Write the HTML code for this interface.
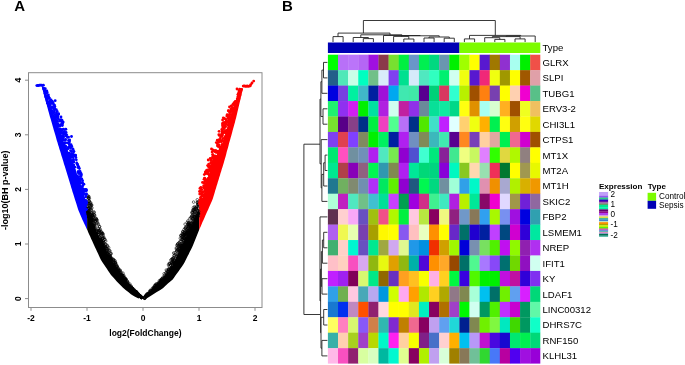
<!DOCTYPE html>
<html lang="en"><head><meta charset="utf-8"><title>Volcano plot and heatmap</title>
<style>html,body{margin:0;padding:0;background:#fff}svg{display:block}</style></head>
<body>
<svg width="685" height="365" viewBox="0 0 685 365" font-family="'Liberation Sans', Arial, sans-serif">
<rect width="685" height="365" fill="#fff"/>
<text x="14.3" y="10.7" font-size="15" font-weight="bold" fill="#000">A</text>
<text x="282" y="10.7" font-size="15" font-weight="bold" fill="#000">B</text>
<rect x="28.5" y="72.7" width="233.5" height="234.8" fill="none" stroke="#8c8c8c" stroke-width="1"/>
<line x1="31.0" y1="307.5" x2="31.0" y2="310.8" stroke="#8c8c8c" stroke-width="1"/>
<text x="31.0" y="321.4" font-size="8.5" font-weight="bold" text-anchor="middle" fill="#000">-2</text>
<line x1="87.0" y1="307.5" x2="87.0" y2="310.8" stroke="#8c8c8c" stroke-width="1"/>
<text x="87.0" y="321.4" font-size="8.5" font-weight="bold" text-anchor="middle" fill="#000">-1</text>
<line x1="143.0" y1="307.5" x2="143.0" y2="310.8" stroke="#8c8c8c" stroke-width="1"/>
<text x="143.0" y="321.4" font-size="8.5" font-weight="bold" text-anchor="middle" fill="#000">0</text>
<line x1="199.0" y1="307.5" x2="199.0" y2="310.8" stroke="#8c8c8c" stroke-width="1"/>
<text x="199.0" y="321.4" font-size="8.5" font-weight="bold" text-anchor="middle" fill="#000">1</text>
<line x1="255.0" y1="307.5" x2="255.0" y2="310.8" stroke="#8c8c8c" stroke-width="1"/>
<text x="255.0" y="321.4" font-size="8.5" font-weight="bold" text-anchor="middle" fill="#000">2</text>
<line x1="25.0" y1="298.6" x2="28.5" y2="298.6" stroke="#8c8c8c" stroke-width="1"/>
<text transform="translate(21,298.6) rotate(-90)" font-size="8.5" font-weight="bold" text-anchor="middle" fill="#000">0</text>
<line x1="25.0" y1="244.0" x2="28.5" y2="244.0" stroke="#8c8c8c" stroke-width="1"/>
<text transform="translate(21,244.0) rotate(-90)" font-size="8.5" font-weight="bold" text-anchor="middle" fill="#000">1</text>
<line x1="25.0" y1="189.4" x2="28.5" y2="189.4" stroke="#8c8c8c" stroke-width="1"/>
<text transform="translate(21,189.4) rotate(-90)" font-size="8.5" font-weight="bold" text-anchor="middle" fill="#000">2</text>
<line x1="25.0" y1="134.8" x2="28.5" y2="134.8" stroke="#8c8c8c" stroke-width="1"/>
<text transform="translate(21,134.8) rotate(-90)" font-size="8.5" font-weight="bold" text-anchor="middle" fill="#000">3</text>
<line x1="25.0" y1="80.2" x2="28.5" y2="80.2" stroke="#8c8c8c" stroke-width="1"/>
<text transform="translate(21,80.2) rotate(-90)" font-size="8.5" font-weight="bold" text-anchor="middle" fill="#000">4</text>
<text x="145.4" y="336.2" font-size="8.5" font-weight="bold" text-anchor="middle" fill="#000">log2(FoldChange)</text>
<text transform="translate(7.6,190.2) rotate(-90)" font-size="9" font-weight="bold" text-anchor="middle" fill="#000">-log10(BH p-value)</text>
<clipPath id="cb"><rect x="0" y="0" width="87.1" height="365"/></clipPath>
<clipPath id="ck"><rect x="87.1" y="0" width="112.1" height="365"/></clipPath>
<clipPath id="cr"><rect x="199.2" y="0" width="100" height="365"/></clipPath>
<g clip-path="url(#ck)"><polygon points="41.8,87.0 42.4,89.1 43.0,91.3 43.6,93.4 44.1,95.5 44.7,97.7 45.3,99.8 45.9,102.0 46.5,104.1 47.1,106.2 47.7,108.4 48.2,110.5 48.8,112.6 49.4,114.8 50.0,116.9 50.7,119.0 51.3,121.2 51.9,123.3 52.5,125.4 53.1,127.6 53.7,129.7 54.4,131.9 55.0,134.0 55.6,136.1 56.2,138.3 56.8,140.4 57.5,142.5 58.1,144.7 58.8,146.8 59.4,148.9 60.1,151.1 60.8,153.2 61.4,155.4 62.1,157.5 62.7,159.6 63.4,161.8 64.0,163.9 64.7,166.0 65.4,168.2 66.0,170.3 66.7,172.4 67.3,174.6 68.0,176.7 68.6,178.8 69.3,181.0 69.9,183.1 70.6,185.3 71.2,187.4 71.9,189.5 72.5,191.7 73.2,193.8 73.9,195.9 74.5,198.1 75.2,200.2 75.9,202.3 76.6,204.5 77.2,206.6 77.9,208.8 78.7,210.9 79.6,213.0 80.5,215.2 81.4,217.3 82.3,219.4 83.3,221.6 84.3,223.7 85.3,225.8 86.3,228.0 87.3,230.1 88.2,232.2 89.2,234.4 90.2,236.5 91.1,238.7 92.1,240.8 93.1,242.9 94.0,245.1 95.0,247.2 96.0,249.3 97.0,251.5 98.0,253.6 99.0,255.7 100.0,257.9 101.0,260.0 102.4,262.2 103.8,264.3 105.3,266.4 106.7,268.6 108.1,270.7 109.5,272.8 111.0,275.0 112.9,277.1 114.9,279.2 116.8,281.4 118.8,283.5 120.8,285.6 123.0,287.8 125.6,289.9 128.3,292.1 130.9,294.2 134.1,296.3 138.5,298.5 142.9,300.6 142.9,300.6 138.5,298.5 141.6,296.3 139.1,294.2 136.6,292.1 134.1,289.9 131.6,287.8 129.7,285.6 127.9,283.5 126.0,281.4 124.1,279.2 122.3,277.1 120.4,275.0 118.9,272.8 117.4,270.7 115.9,268.6 114.5,266.4 113.1,264.3 112.0,262.2 110.8,260.0 109.7,257.9 108.5,255.7 107.4,253.6 106.3,251.5 105.1,249.3 104.0,247.2 102.8,245.1 101.8,242.9 100.8,240.8 99.7,238.7 98.7,236.5 97.7,234.4 96.6,232.2 95.6,230.1 94.6,228.0 93.8,225.8 93.0,223.7 92.3,221.6 91.5,219.4 90.7,217.3 89.9,215.2 89.2,213.0 88.5,210.9 87.9,208.8 87.2,206.6 86.6,204.5 86.0,202.3 85.4,200.2 84.7,198.1 84.1,195.9 83.4,193.8 82.8,191.7 82.2,189.5 81.5,187.4 80.9,185.3 80.2,183.1 79.5,181.0 78.7,178.8 78.0,176.7 77.2,174.6 76.5,172.4 75.8,170.3 75.0,168.2 74.3,166.0 73.6,163.9 72.8,161.8 71.8,159.6 70.8,157.5 69.8,155.4 68.8,153.2 67.8,151.1 66.9,148.9 65.9,146.8 65.0,144.7 64.1,142.5 63.3,140.4 62.4,138.3 61.6,136.1 60.8,134.0 60.0,131.9 59.2,129.7 58.5,127.6 57.7,125.4 56.9,123.3 56.1,121.2 55.4,119.0 54.6,116.9 53.7,114.8 52.9,112.6 52.1,110.5 51.3,108.4 50.4,106.2 49.6,104.1 48.8,102.0 47.9,99.8 47.2,97.7 46.5,95.5 45.7,93.4 45.0,91.3 44.2,89.1 43.5,87.0" fill="#000"/><polygon points="243.0,88.5 242.5,90.6 242.0,92.7 241.5,94.9 241.0,97.0 240.5,99.1 240.0,101.2 239.5,103.3 239.0,105.5 238.5,107.6 238.0,109.7 237.5,111.8 237.0,114.0 236.5,116.1 236.0,118.2 235.4,120.3 234.9,122.4 234.3,124.6 233.7,126.7 233.1,128.8 232.5,130.9 232.0,133.0 231.4,135.2 230.8,137.3 230.2,139.4 229.6,141.5 229.0,143.6 228.5,145.8 227.9,147.9 227.3,150.0 226.7,152.1 226.2,154.3 225.6,156.4 225.0,158.5 224.4,160.6 223.8,162.7 223.1,164.9 222.5,167.0 221.8,169.1 221.2,171.2 220.5,173.3 219.9,175.5 219.2,177.6 218.6,179.7 217.9,181.8 217.3,183.9 216.6,186.1 216.0,188.2 215.3,190.3 214.7,192.4 214.1,194.6 213.4,196.7 212.8,198.8 211.9,200.9 211.0,203.0 210.0,205.2 209.1,207.3 208.2,209.4 207.2,211.5 206.3,213.6 205.3,215.8 204.4,217.9 203.5,220.0 202.5,222.1 201.6,224.2 200.7,226.4 199.7,228.5 198.9,230.6 198.0,232.7 197.2,234.8 196.3,237.0 195.5,239.1 194.6,241.2 193.8,243.3 192.9,245.5 192.0,247.6 190.9,249.7 189.8,251.8 188.8,253.9 187.7,256.1 186.6,258.2 185.6,260.3 184.5,262.4 183.3,264.5 181.8,266.7 180.3,268.8 178.8,270.9 177.3,273.0 175.8,275.1 174.3,277.3 172.7,279.4 170.3,281.5 167.9,283.6 165.5,285.8 163.2,287.9 160.3,290.0 156.8,292.1 153.3,294.2 149.8,296.4 146.5,298.5 143.1,300.6 143.1,300.6 146.5,298.5 144.4,296.4 146.9,294.2 149.5,292.1 152.0,290.0 154.5,287.9 156.8,285.8 159.1,283.6 161.4,281.5 163.7,279.4 165.9,277.3 167.2,275.1 168.5,273.0 169.8,270.9 171.0,268.8 172.3,266.7 173.6,264.5 174.6,262.4 175.6,260.3 176.6,258.2 177.7,256.1 178.7,253.9 179.7,251.8 180.7,249.7 181.6,247.6 182.6,245.5 183.5,243.3 184.4,241.2 185.3,239.1 186.3,237.0 187.2,234.8 188.2,232.7 189.5,230.6 190.7,228.5 192.0,226.4 193.0,224.2 193.9,222.1 194.8,220.0 195.6,217.9 196.5,215.8 197.3,213.6 198.2,211.5 199.0,209.4 199.9,207.3 200.7,205.2 201.5,203.0 202.4,200.9 203.1,198.8 203.6,196.7 204.1,194.6 204.6,192.4 205.2,190.3 205.7,188.2 206.2,186.1 206.7,183.9 207.2,181.8 207.7,179.7 208.2,177.6 208.7,175.5 209.2,173.3 209.7,171.2 210.3,169.1 210.8,167.0 211.7,164.9 212.8,162.7 213.9,160.6 215.0,158.5 216.1,156.4 217.2,154.3 218.3,152.1 219.4,150.0 220.5,147.9 221.6,145.8 222.6,143.6 223.2,141.5 223.8,139.4 224.4,137.3 225.0,135.2 225.6,133.0 226.2,130.9 226.8,128.8 227.4,126.7 228.0,124.6 228.6,122.4 229.2,120.3 230.0,118.2 230.8,116.1 231.7,114.0 232.5,111.8 233.3,109.7 234.2,107.6 235.0,105.5 235.9,103.3 236.7,101.2 237.6,99.1 238.4,97.0 239.2,94.9 240.0,92.7 240.7,90.6 241.5,88.5" fill="#000"/></g>
<g clip-path="url(#cb)"><polygon points="41.8,87.0 42.4,89.1 43.0,91.3 43.6,93.4 44.1,95.5 44.7,97.7 45.3,99.8 45.9,102.0 46.5,104.1 47.1,106.2 47.7,108.4 48.2,110.5 48.8,112.6 49.4,114.8 50.0,116.9 50.7,119.0 51.3,121.2 51.9,123.3 52.5,125.4 53.1,127.6 53.7,129.7 54.4,131.9 55.0,134.0 55.6,136.1 56.2,138.3 56.8,140.4 57.5,142.5 58.1,144.7 58.8,146.8 59.4,148.9 60.1,151.1 60.8,153.2 61.4,155.4 62.1,157.5 62.7,159.6 63.4,161.8 64.0,163.9 64.7,166.0 65.4,168.2 66.0,170.3 66.7,172.4 67.3,174.6 68.0,176.7 68.6,178.8 69.3,181.0 69.9,183.1 70.6,185.3 71.2,187.4 71.9,189.5 72.5,191.7 73.2,193.8 73.9,195.9 74.5,198.1 75.2,200.2 75.9,202.3 76.6,204.5 77.2,206.6 77.9,208.8 78.7,210.9 79.6,213.0 80.5,215.2 81.4,217.3 82.3,219.4 83.3,221.6 84.3,223.7 85.3,225.8 86.3,228.0 87.3,230.1 88.2,232.2 89.2,234.4 90.2,236.5 91.1,238.7 92.1,240.8 93.1,242.9 94.0,245.1 95.0,247.2 96.0,249.3 97.0,251.5 98.0,253.6 99.0,255.7 100.0,257.9 101.0,260.0 102.4,262.2 103.8,264.3 105.3,266.4 106.7,268.6 108.1,270.7 109.5,272.8 111.0,275.0 112.9,277.1 114.9,279.2 116.8,281.4 118.8,283.5 120.8,285.6 123.0,287.8 125.6,289.9 128.3,292.1 130.9,294.2 134.1,296.3 138.5,298.5 142.9,300.6 142.9,300.6 138.5,298.5 141.6,296.3 139.1,294.2 136.6,292.1 134.1,289.9 131.6,287.8 129.7,285.6 127.9,283.5 126.0,281.4 124.1,279.2 122.3,277.1 120.4,275.0 118.9,272.8 117.4,270.7 115.9,268.6 114.5,266.4 113.1,264.3 112.0,262.2 110.8,260.0 109.7,257.9 108.5,255.7 107.4,253.6 106.3,251.5 105.1,249.3 104.0,247.2 102.8,245.1 101.8,242.9 100.8,240.8 99.7,238.7 98.7,236.5 97.7,234.4 96.6,232.2 95.6,230.1 94.6,228.0 93.8,225.8 93.0,223.7 92.3,221.6 91.5,219.4 90.7,217.3 89.9,215.2 89.2,213.0 88.5,210.9 87.9,208.8 87.2,206.6 86.6,204.5 86.0,202.3 85.4,200.2 84.7,198.1 84.1,195.9 83.4,193.8 82.8,191.7 82.2,189.5 81.5,187.4 80.9,185.3 80.2,183.1 79.5,181.0 78.7,178.8 78.0,176.7 77.2,174.6 76.5,172.4 75.8,170.3 75.0,168.2 74.3,166.0 73.6,163.9 72.8,161.8 71.8,159.6 70.8,157.5 69.8,155.4 68.8,153.2 67.8,151.1 66.9,148.9 65.9,146.8 65.0,144.7 64.1,142.5 63.3,140.4 62.4,138.3 61.6,136.1 60.8,134.0 60.0,131.9 59.2,129.7 58.5,127.6 57.7,125.4 56.9,123.3 56.1,121.2 55.4,119.0 54.6,116.9 53.7,114.8 52.9,112.6 52.1,110.5 51.3,108.4 50.4,106.2 49.6,104.1 48.8,102.0 47.9,99.8 47.2,97.7 46.5,95.5 45.7,93.4 45.0,91.3 44.2,89.1 43.5,87.0" fill="#0000ff"/></g>
<g clip-path="url(#cr)"><polygon points="243.0,88.5 242.5,90.6 242.0,92.7 241.5,94.9 241.0,97.0 240.5,99.1 240.0,101.2 239.5,103.3 239.0,105.5 238.5,107.6 238.0,109.7 237.5,111.8 237.0,114.0 236.5,116.1 236.0,118.2 235.4,120.3 234.9,122.4 234.3,124.6 233.7,126.7 233.1,128.8 232.5,130.9 232.0,133.0 231.4,135.2 230.8,137.3 230.2,139.4 229.6,141.5 229.0,143.6 228.5,145.8 227.9,147.9 227.3,150.0 226.7,152.1 226.2,154.3 225.6,156.4 225.0,158.5 224.4,160.6 223.8,162.7 223.1,164.9 222.5,167.0 221.8,169.1 221.2,171.2 220.5,173.3 219.9,175.5 219.2,177.6 218.6,179.7 217.9,181.8 217.3,183.9 216.6,186.1 216.0,188.2 215.3,190.3 214.7,192.4 214.1,194.6 213.4,196.7 212.8,198.8 211.9,200.9 211.0,203.0 210.0,205.2 209.1,207.3 208.2,209.4 207.2,211.5 206.3,213.6 205.3,215.8 204.4,217.9 203.5,220.0 202.5,222.1 201.6,224.2 200.7,226.4 199.7,228.5 198.9,230.6 198.0,232.7 197.2,234.8 196.3,237.0 195.5,239.1 194.6,241.2 193.8,243.3 192.9,245.5 192.0,247.6 190.9,249.7 189.8,251.8 188.8,253.9 187.7,256.1 186.6,258.2 185.6,260.3 184.5,262.4 183.3,264.5 181.8,266.7 180.3,268.8 178.8,270.9 177.3,273.0 175.8,275.1 174.3,277.3 172.7,279.4 170.3,281.5 167.9,283.6 165.5,285.8 163.2,287.9 160.3,290.0 156.8,292.1 153.3,294.2 149.8,296.4 146.5,298.5 143.1,300.6 143.1,300.6 146.5,298.5 144.4,296.4 146.9,294.2 149.5,292.1 152.0,290.0 154.5,287.9 156.8,285.8 159.1,283.6 161.4,281.5 163.7,279.4 165.9,277.3 167.2,275.1 168.5,273.0 169.8,270.9 171.0,268.8 172.3,266.7 173.6,264.5 174.6,262.4 175.6,260.3 176.6,258.2 177.7,256.1 178.7,253.9 179.7,251.8 180.7,249.7 181.6,247.6 182.6,245.5 183.5,243.3 184.4,241.2 185.3,239.1 186.3,237.0 187.2,234.8 188.2,232.7 189.5,230.6 190.7,228.5 192.0,226.4 193.0,224.2 193.9,222.1 194.8,220.0 195.6,217.9 196.5,215.8 197.3,213.6 198.2,211.5 199.0,209.4 199.9,207.3 200.7,205.2 201.5,203.0 202.4,200.9 203.1,198.8 203.6,196.7 204.1,194.6 204.6,192.4 205.2,190.3 205.7,188.2 206.2,186.1 206.7,183.9 207.2,181.8 207.7,179.7 208.2,177.6 208.7,175.5 209.2,173.3 209.7,171.2 210.3,169.1 210.8,167.0 211.7,164.9 212.8,162.7 213.9,160.6 215.0,158.5 216.1,156.4 217.2,154.3 218.3,152.1 219.4,150.0 220.5,147.9 221.6,145.8 222.6,143.6 223.2,141.5 223.8,139.4 224.4,137.3 225.0,135.2 225.6,133.0 226.2,130.9 226.8,128.8 227.4,126.7 228.0,124.6 228.6,122.4 229.2,120.3 230.0,118.2 230.8,116.1 231.7,114.0 232.5,111.8 233.3,109.7 234.2,107.6 235.0,105.5 235.9,103.3 236.7,101.2 237.6,99.1 238.4,97.0 239.2,94.9 240.0,92.7 240.7,90.6 241.5,88.5" fill="#ff0000"/></g>
<g fill="none" stroke="#000" stroke-width="0.55">
<circle cx="92.7" cy="226.5" r="1.3"/>
<circle cx="98.0" cy="238.2" r="1.3"/>
<circle cx="102.5" cy="237.2" r="1.3"/>
<circle cx="91.8" cy="215.8" r="1.3"/>
<circle cx="107.0" cy="253.5" r="1.3"/>
<circle cx="87.6" cy="197.0" r="1.3"/>
<circle cx="122.5" cy="278.9" r="1.3"/>
<circle cx="110.3" cy="260.0" r="1.3"/>
<circle cx="112.8" cy="264.5" r="1.3"/>
<circle cx="107.8" cy="254.4" r="1.3"/>
<circle cx="122.4" cy="276.6" r="1.3"/>
<circle cx="107.6" cy="253.2" r="1.3"/>
<circle cx="115.7" cy="269.7" r="1.3"/>
<circle cx="88.1" cy="208.2" r="1.3"/>
<circle cx="114.2" cy="263.2" r="1.3"/>
<circle cx="128.2" cy="285.2" r="1.3"/>
<circle cx="109.1" cy="255.3" r="1.3"/>
<circle cx="127.5" cy="281.5" r="1.3"/>
<circle cx="110.7" cy="262.7" r="1.3"/>
<circle cx="115.1" cy="260.9" r="1.3"/>
<circle cx="92.3" cy="222.3" r="1.3"/>
<circle cx="127.4" cy="284.8" r="1.3"/>
<circle cx="109.3" cy="250.5" r="1.3"/>
<circle cx="127.1" cy="284.0" r="1.3"/>
<circle cx="99.9" cy="230.2" r="1.3"/>
<circle cx="91.0" cy="216.9" r="1.3"/>
<circle cx="90.1" cy="220.0" r="1.3"/>
<circle cx="97.3" cy="231.3" r="1.3"/>
<circle cx="113.9" cy="265.5" r="1.3"/>
<circle cx="111.4" cy="264.0" r="1.3"/>
<circle cx="122.3" cy="275.1" r="1.3"/>
<circle cx="97.3" cy="233.8" r="1.3"/>
<circle cx="109.0" cy="259.6" r="1.3"/>
<circle cx="88.3" cy="214.2" r="1.3"/>
<circle cx="128.9" cy="285.1" r="1.3"/>
<circle cx="90.9" cy="218.9" r="1.3"/>
<circle cx="90.3" cy="205.1" r="1.3"/>
<circle cx="101.6" cy="241.6" r="1.3"/>
<circle cx="123.6" cy="280.3" r="1.3"/>
<circle cx="136.9" cy="293.3" r="1.3"/>
<circle cx="103.8" cy="249.8" r="1.3"/>
<circle cx="140.6" cy="296.2" r="1.3"/>
<circle cx="91.3" cy="219.8" r="1.3"/>
<circle cx="119.7" cy="274.2" r="1.3"/>
<circle cx="93.2" cy="227.1" r="1.3"/>
<circle cx="141.3" cy="296.9" r="1.3"/>
<circle cx="124.7" cy="279.2" r="1.3"/>
<circle cx="103.5" cy="247.1" r="1.3"/>
<circle cx="117.1" cy="265.8" r="1.3"/>
<circle cx="136.4" cy="291.8" r="1.3"/>
<circle cx="94.9" cy="230.8" r="1.3"/>
<circle cx="88.0" cy="212.9" r="1.3"/>
<circle cx="132.0" cy="287.9" r="1.3"/>
<circle cx="113.7" cy="261.5" r="1.3"/>
<circle cx="115.0" cy="262.4" r="1.3"/>
<circle cx="117.9" cy="271.9" r="1.3"/>
<circle cx="120.4" cy="276.0" r="1.3"/>
<circle cx="139.3" cy="295.5" r="1.3"/>
<circle cx="136.8" cy="292.8" r="1.3"/>
<circle cx="121.5" cy="277.9" r="1.3"/>
<circle cx="140.6" cy="296.4" r="1.3"/>
<circle cx="106.7" cy="250.4" r="1.3"/>
<circle cx="111.7" cy="261.2" r="1.3"/>
<circle cx="103.4" cy="238.2" r="1.3"/>
<circle cx="88.8" cy="214.5" r="1.3"/>
<circle cx="92.1" cy="217.6" r="1.3"/>
<circle cx="97.4" cy="236.6" r="1.3"/>
<circle cx="95.7" cy="229.7" r="1.3"/>
<circle cx="131.1" cy="288.3" r="1.3"/>
<circle cx="103.7" cy="245.4" r="1.3"/>
<circle cx="103.9" cy="242.4" r="1.3"/>
<circle cx="94.9" cy="226.7" r="1.3"/>
<circle cx="119.4" cy="275.5" r="1.3"/>
<circle cx="90.3" cy="218.5" r="1.3"/>
<circle cx="104.3" cy="246.1" r="1.3"/>
<circle cx="132.2" cy="289.2" r="1.3"/>
<circle cx="103.8" cy="245.8" r="1.3"/>
<circle cx="101.2" cy="240.2" r="1.3"/>
<circle cx="136.2" cy="292.3" r="1.3"/>
<circle cx="135.5" cy="292.3" r="1.3"/>
<circle cx="136.7" cy="292.5" r="1.3"/>
<circle cx="89.3" cy="217.6" r="1.3"/>
<circle cx="122.7" cy="275.5" r="1.3"/>
<circle cx="116.5" cy="268.3" r="1.3"/>
<circle cx="131.1" cy="286.0" r="1.3"/>
<circle cx="136.9" cy="293.4" r="1.3"/>
<circle cx="141.5" cy="297.4" r="1.3"/>
<circle cx="100.1" cy="238.0" r="1.3"/>
<circle cx="88.5" cy="212.8" r="1.3"/>
<circle cx="102.1" cy="246.6" r="1.3"/>
<circle cx="123.6" cy="276.0" r="1.3"/>
<circle cx="90.2" cy="220.3" r="1.3"/>
<circle cx="90.6" cy="220.8" r="1.3"/>
<circle cx="133.1" cy="289.1" r="1.3"/>
<circle cx="91.9" cy="207.9" r="1.3"/>
<circle cx="113.1" cy="266.6" r="1.3"/>
<circle cx="113.3" cy="265.3" r="1.3"/>
<circle cx="135.7" cy="291.9" r="1.3"/>
<circle cx="89.0" cy="200.9" r="1.3"/>
<circle cx="127.4" cy="283.9" r="1.3"/>
<circle cx="109.9" cy="250.9" r="1.3"/>
<circle cx="87.6" cy="205.8" r="1.3"/>
<circle cx="88.7" cy="213.5" r="1.3"/>
<circle cx="117.8" cy="272.9" r="1.3"/>
<circle cx="88.7" cy="210.9" r="1.3"/>
<circle cx="89.2" cy="212.2" r="1.3"/>
<circle cx="89.4" cy="203.3" r="1.3"/>
<circle cx="106.1" cy="244.7" r="1.3"/>
<circle cx="105.3" cy="246.0" r="1.3"/>
<circle cx="98.5" cy="228.5" r="1.3"/>
<circle cx="110.3" cy="259.7" r="1.3"/>
<circle cx="116.4" cy="270.9" r="1.3"/>
<circle cx="88.9" cy="201.0" r="1.3"/>
<circle cx="111.7" cy="263.4" r="1.3"/>
<circle cx="93.2" cy="223.2" r="1.3"/>
<circle cx="99.3" cy="239.5" r="1.3"/>
<circle cx="139.5" cy="295.6" r="1.3"/>
<circle cx="138.4" cy="294.8" r="1.3"/>
<circle cx="101.9" cy="245.5" r="1.3"/>
<circle cx="96.2" cy="234.5" r="1.3"/>
<circle cx="92.3" cy="224.4" r="1.3"/>
<circle cx="107.0" cy="248.4" r="1.3"/>
<circle cx="118.0" cy="268.3" r="1.3"/>
<circle cx="99.5" cy="226.7" r="1.3"/>
<circle cx="117.0" cy="269.1" r="1.3"/>
<circle cx="126.9" cy="281.0" r="1.3"/>
<circle cx="118.7" cy="270.2" r="1.3"/>
<circle cx="104.7" cy="247.8" r="1.3"/>
<circle cx="124.0" cy="277.7" r="1.3"/>
<circle cx="130.8" cy="287.1" r="1.3"/>
<circle cx="88.8" cy="216.5" r="1.3"/>
<circle cx="94.3" cy="230.4" r="1.3"/>
<circle cx="107.5" cy="251.5" r="1.3"/>
<circle cx="115.1" cy="264.5" r="1.3"/>
<circle cx="117.9" cy="271.7" r="1.3"/>
<circle cx="110.5" cy="262.2" r="1.3"/>
<circle cx="89.8" cy="218.9" r="1.3"/>
<circle cx="115.4" cy="269.7" r="1.3"/>
<circle cx="139.8" cy="295.9" r="1.3"/>
<circle cx="103.8" cy="243.0" r="1.3"/>
<circle cx="110.7" cy="257.7" r="1.3"/>
<circle cx="94.6" cy="224.4" r="1.3"/>
<circle cx="93.9" cy="220.6" r="1.3"/>
<circle cx="112.0" cy="264.0" r="1.3"/>
<circle cx="101.4" cy="241.5" r="1.3"/>
<circle cx="129.6" cy="287.2" r="1.3"/>
<circle cx="134.6" cy="291.7" r="1.3"/>
<circle cx="126.1" cy="279.3" r="1.3"/>
<circle cx="90.8" cy="220.6" r="1.3"/>
<circle cx="90.9" cy="214.4" r="1.3"/>
<circle cx="108.7" cy="247.8" r="1.3"/>
<circle cx="123.8" cy="279.4" r="1.3"/>
<circle cx="113.6" cy="266.9" r="1.3"/>
<circle cx="101.9" cy="243.8" r="1.3"/>
<circle cx="99.7" cy="240.0" r="1.3"/>
<circle cx="94.3" cy="228.6" r="1.3"/>
<circle cx="91.0" cy="204.8" r="1.3"/>
<circle cx="130.5" cy="288.0" r="1.3"/>
<circle cx="102.9" cy="233.8" r="1.3"/>
<circle cx="95.9" cy="230.4" r="1.3"/>
<circle cx="97.3" cy="222.4" r="1.3"/>
<circle cx="92.5" cy="220.3" r="1.3"/>
<circle cx="101.4" cy="231.8" r="1.3"/>
<circle cx="123.6" cy="278.5" r="1.3"/>
<circle cx="135.8" cy="292.2" r="1.3"/>
<circle cx="118.9" cy="272.2" r="1.3"/>
<circle cx="88.4" cy="197.2" r="1.3"/>
<circle cx="101.0" cy="242.3" r="1.3"/>
<circle cx="120.2" cy="270.7" r="1.3"/>
<circle cx="110.9" cy="261.9" r="1.3"/>
<circle cx="96.2" cy="234.0" r="1.3"/>
<circle cx="93.9" cy="214.1" r="1.3"/>
<circle cx="94.4" cy="215.4" r="1.3"/>
<circle cx="99.0" cy="239.9" r="1.3"/>
<circle cx="89.9" cy="217.5" r="1.3"/>
<circle cx="130.5" cy="286.5" r="1.3"/>
<circle cx="99.2" cy="236.1" r="1.3"/>
<circle cx="93.1" cy="228.0" r="1.3"/>
<circle cx="138.6" cy="295.1" r="1.3"/>
<circle cx="113.1" cy="259.1" r="1.3"/>
<circle cx="91.1" cy="220.9" r="1.3"/>
<circle cx="104.9" cy="239.5" r="1.3"/>
<circle cx="127.5" cy="285.0" r="1.3"/>
<circle cx="117.7" cy="267.6" r="1.3"/>
<circle cx="106.3" cy="254.5" r="1.3"/>
<circle cx="134.8" cy="290.7" r="1.3"/>
<circle cx="139.2" cy="295.5" r="1.3"/>
<circle cx="88.4" cy="208.4" r="1.3"/>
<circle cx="136.2" cy="292.3" r="1.3"/>
<circle cx="118.8" cy="273.5" r="1.3"/>
<circle cx="133.5" cy="290.0" r="1.3"/>
<circle cx="113.0" cy="266.4" r="1.3"/>
<circle cx="105.3" cy="247.9" r="1.3"/>
<circle cx="92.3" cy="215.8" r="1.3"/>
<circle cx="105.7" cy="241.1" r="1.3"/>
<circle cx="129.3" cy="286.1" r="1.3"/>
<circle cx="96.1" cy="218.3" r="1.3"/>
<circle cx="91.8" cy="224.7" r="1.3"/>
<circle cx="112.5" cy="263.8" r="1.3"/>
<circle cx="115.5" cy="263.1" r="1.3"/>
<circle cx="112.1" cy="264.7" r="1.3"/>
<circle cx="117.3" cy="270.7" r="1.3"/>
<circle cx="139.0" cy="295.3" r="1.3"/>
<circle cx="89.4" cy="216.6" r="1.3"/>
<circle cx="97.9" cy="223.4" r="1.3"/>
<circle cx="87.7" cy="211.9" r="1.3"/>
<circle cx="115.6" cy="262.9" r="1.3"/>
<circle cx="96.4" cy="233.9" r="1.3"/>
<circle cx="101.7" cy="233.9" r="1.3"/>
<circle cx="120.0" cy="270.0" r="1.3"/>
<circle cx="93.1" cy="227.1" r="1.3"/>
<circle cx="116.3" cy="271.5" r="1.3"/>
<circle cx="96.4" cy="232.3" r="1.3"/>
<circle cx="100.3" cy="229.4" r="1.3"/>
<circle cx="138.2" cy="294.7" r="1.3"/>
<circle cx="125.4" cy="279.5" r="1.3"/>
<circle cx="132.6" cy="289.9" r="1.3"/>
<circle cx="129.8" cy="287.5" r="1.3"/>
<circle cx="124.3" cy="278.5" r="1.3"/>
<circle cx="94.2" cy="219.4" r="1.3"/>
<circle cx="93.8" cy="228.1" r="1.3"/>
<circle cx="108.6" cy="257.7" r="1.3"/>
<circle cx="94.9" cy="225.7" r="1.3"/>
<circle cx="133.1" cy="289.6" r="1.3"/>
<circle cx="138.4" cy="293.9" r="1.3"/>
<circle cx="91.3" cy="218.7" r="1.3"/>
<circle cx="133.7" cy="290.8" r="1.3"/>
<circle cx="119.1" cy="270.6" r="1.3"/>
<circle cx="108.3" cy="256.7" r="1.3"/>
<circle cx="98.9" cy="230.5" r="1.3"/>
<circle cx="91.9" cy="213.0" r="1.3"/>
<circle cx="99.5" cy="226.7" r="1.3"/>
<circle cx="141.1" cy="297.2" r="1.3"/>
<circle cx="99.2" cy="239.6" r="1.3"/>
<circle cx="111.1" cy="258.1" r="1.3"/>
<circle cx="126.8" cy="282.2" r="1.3"/>
<circle cx="125.0" cy="281.6" r="1.3"/>
<circle cx="99.0" cy="231.7" r="1.3"/>
<circle cx="90.2" cy="218.4" r="1.3"/>
<circle cx="129.7" cy="286.2" r="1.3"/>
<circle cx="102.9" cy="234.2" r="1.3"/>
<circle cx="93.8" cy="216.6" r="1.3"/>
<circle cx="141.3" cy="297.5" r="1.3"/>
<circle cx="125.3" cy="279.2" r="1.3"/>
<circle cx="94.0" cy="212.2" r="1.3"/>
<circle cx="134.2" cy="291.1" r="1.3"/>
<circle cx="99.4" cy="239.8" r="1.3"/>
<circle cx="135.8" cy="292.7" r="1.3"/>
<circle cx="108.6" cy="258.0" r="1.3"/>
<circle cx="109.8" cy="255.8" r="1.3"/>
<circle cx="88.1" cy="211.7" r="1.3"/>
<circle cx="121.8" cy="276.7" r="1.3"/>
<circle cx="109.4" cy="260.1" r="1.3"/>
<circle cx="113.7" cy="266.1" r="1.3"/>
<circle cx="98.4" cy="224.8" r="1.3"/>
<circle cx="106.2" cy="252.3" r="1.3"/>
<circle cx="129.8" cy="284.0" r="1.3"/>
<circle cx="91.7" cy="213.0" r="1.3"/>
<circle cx="123.4" cy="279.4" r="1.3"/>
<circle cx="101.0" cy="241.1" r="1.3"/>
<circle cx="114.0" cy="260.2" r="1.3"/>
<circle cx="109.3" cy="258.3" r="1.3"/>
<circle cx="133.3" cy="290.6" r="1.3"/>
<circle cx="124.9" cy="277.7" r="1.3"/>
<circle cx="91.4" cy="205.5" r="1.3"/>
<circle cx="100.5" cy="243.4" r="1.3"/>
<circle cx="101.5" cy="233.3" r="1.3"/>
<circle cx="123.2" cy="279.8" r="1.3"/>
<circle cx="90.0" cy="215.7" r="1.3"/>
<circle cx="123.7" cy="280.3" r="1.3"/>
<circle cx="98.5" cy="234.6" r="1.3"/>
<circle cx="129.8" cy="287.6" r="1.3"/>
<circle cx="117.2" cy="272.7" r="1.3"/>
<circle cx="87.8" cy="204.5" r="1.3"/>
<circle cx="109.3" cy="258.8" r="1.3"/>
<circle cx="107.5" cy="254.0" r="1.3"/>
<circle cx="100.3" cy="239.6" r="1.3"/>
<circle cx="109.8" cy="257.9" r="1.3"/>
<circle cx="120.5" cy="273.3" r="1.3"/>
<circle cx="88.9" cy="211.1" r="1.3"/>
<circle cx="100.5" cy="239.1" r="1.3"/>
<circle cx="109.2" cy="259.8" r="1.3"/>
<circle cx="120.0" cy="274.8" r="1.3"/>
<circle cx="102.8" cy="245.7" r="1.3"/>
<circle cx="90.8" cy="206.5" r="1.3"/>
<circle cx="118.6" cy="270.0" r="1.3"/>
<circle cx="140.6" cy="296.6" r="1.3"/>
<circle cx="132.1" cy="289.6" r="1.3"/>
<circle cx="133.9" cy="291.1" r="1.3"/>
<circle cx="117.2" cy="272.5" r="1.3"/>
<circle cx="95.6" cy="221.3" r="1.3"/>
<circle cx="107.3" cy="245.5" r="1.3"/>
<circle cx="92.3" cy="220.0" r="1.3"/>
<circle cx="135.5" cy="291.7" r="1.3"/>
<circle cx="91.2" cy="210.0" r="1.3"/>
<circle cx="106.1" cy="248.5" r="1.3"/>
<circle cx="128.6" cy="285.0" r="1.3"/>
<circle cx="128.5" cy="286.0" r="1.3"/>
<circle cx="109.9" cy="259.1" r="1.3"/>
<circle cx="97.2" cy="220.2" r="1.3"/>
<circle cx="98.7" cy="230.4" r="1.3"/>
<circle cx="91.1" cy="210.8" r="1.3"/>
<circle cx="123.0" cy="279.3" r="1.3"/>
<circle cx="140.9" cy="296.8" r="1.3"/>
<circle cx="92.0" cy="225.3" r="1.3"/>
<circle cx="89.0" cy="207.9" r="1.3"/>
<circle cx="107.6" cy="246.6" r="1.3"/>
<circle cx="92.1" cy="216.2" r="1.3"/>
<circle cx="94.5" cy="230.0" r="1.3"/>
<circle cx="106.8" cy="254.7" r="1.3"/>
<circle cx="100.3" cy="242.6" r="1.3"/>
<circle cx="89.6" cy="217.9" r="1.3"/>
<circle cx="113.6" cy="260.0" r="1.3"/>
<circle cx="98.6" cy="234.8" r="1.3"/>
<circle cx="105.9" cy="251.9" r="1.3"/>
<circle cx="104.6" cy="239.3" r="1.3"/>
<circle cx="95.5" cy="218.5" r="1.3"/>
<circle cx="104.5" cy="248.6" r="1.3"/>
<circle cx="88.7" cy="198.2" r="1.3"/>
<circle cx="135.2" cy="292.2" r="1.3"/>
<circle cx="109.3" cy="256.8" r="1.3"/>
<circle cx="122.2" cy="278.6" r="1.3"/>
<circle cx="91.6" cy="224.0" r="1.3"/>
<circle cx="123.7" cy="275.4" r="1.3"/>
<circle cx="117.5" cy="271.4" r="1.3"/>
<circle cx="99.4" cy="240.2" r="1.3"/>
<circle cx="88.9" cy="216.7" r="1.3"/>
<circle cx="119.0" cy="271.8" r="1.3"/>
<circle cx="114.3" cy="267.8" r="1.3"/>
<circle cx="102.7" cy="238.4" r="1.3"/>
<circle cx="93.5" cy="220.3" r="1.3"/>
<circle cx="94.6" cy="215.1" r="1.3"/>
<circle cx="93.3" cy="217.1" r="1.3"/>
<circle cx="117.0" cy="271.5" r="1.3"/>
<circle cx="93.3" cy="227.0" r="1.3"/>
<circle cx="111.8" cy="259.2" r="1.3"/>
<circle cx="140.2" cy="296.3" r="1.3"/>
<circle cx="116.6" cy="266.3" r="1.3"/>
<circle cx="116.6" cy="269.2" r="1.3"/>
<circle cx="91.3" cy="214.6" r="1.3"/>
<circle cx="131.5" cy="289.0" r="1.3"/>
<circle cx="90.5" cy="203.4" r="1.3"/>
<circle cx="114.7" cy="265.8" r="1.3"/>
<circle cx="115.7" cy="270.5" r="1.3"/>
<circle cx="99.4" cy="230.7" r="1.3"/>
<circle cx="129.3" cy="286.9" r="1.3"/>
<circle cx="133.9" cy="289.4" r="1.3"/>
<circle cx="88.1" cy="213.9" r="1.3"/>
<circle cx="127.5" cy="282.3" r="1.3"/>
<circle cx="124.7" cy="279.9" r="1.3"/>
<circle cx="88.9" cy="213.8" r="1.3"/>
<circle cx="115.0" cy="268.2" r="1.3"/>
<circle cx="138.5" cy="294.7" r="1.3"/>
<circle cx="108.1" cy="257.8" r="1.3"/>
<circle cx="102.5" cy="238.5" r="1.3"/>
<circle cx="115.0" cy="267.0" r="1.3"/>
<circle cx="126.6" cy="283.8" r="1.3"/>
<circle cx="123.0" cy="273.2" r="1.3"/>
<circle cx="105.5" cy="244.3" r="1.3"/>
<circle cx="102.2" cy="244.7" r="1.3"/>
<circle cx="96.4" cy="219.8" r="1.3"/>
<circle cx="92.1" cy="214.9" r="1.3"/>
<circle cx="87.9" cy="203.7" r="1.3"/>
<circle cx="121.9" cy="275.9" r="1.3"/>
<circle cx="109.6" cy="258.9" r="1.3"/>
<circle cx="101.7" cy="234.0" r="1.3"/>
<circle cx="129.0" cy="286.6" r="1.3"/>
<circle cx="96.1" cy="220.0" r="1.3"/>
<circle cx="100.9" cy="232.4" r="1.3"/>
<circle cx="101.7" cy="241.1" r="1.3"/>
<circle cx="119.0" cy="272.2" r="1.3"/>
<circle cx="92.9" cy="226.8" r="1.3"/>
<circle cx="113.8" cy="262.5" r="1.3"/>
<circle cx="102.7" cy="238.7" r="1.3"/>
<circle cx="89.6" cy="217.3" r="1.3"/>
<circle cx="116.9" cy="266.9" r="1.3"/>
<circle cx="102.9" cy="247.6" r="1.3"/>
<circle cx="94.0" cy="212.2" r="1.3"/>
<circle cx="90.7" cy="202.8" r="1.3"/>
<circle cx="102.3" cy="232.9" r="1.3"/>
<circle cx="116.5" cy="270.1" r="1.3"/>
<circle cx="109.3" cy="259.9" r="1.3"/>
<circle cx="95.6" cy="233.4" r="1.3"/>
<circle cx="122.1" cy="276.2" r="1.3"/>
<circle cx="110.4" cy="259.3" r="1.3"/>
<circle cx="108.5" cy="256.3" r="1.3"/>
<circle cx="131.6" cy="288.7" r="1.3"/>
<circle cx="117.6" cy="271.8" r="1.3"/>
<circle cx="118.4" cy="268.9" r="1.3"/>
<circle cx="116.8" cy="266.6" r="1.3"/>
<circle cx="110.8" cy="260.3" r="1.3"/>
<circle cx="108.8" cy="258.9" r="1.3"/>
<circle cx="121.5" cy="275.3" r="1.3"/>
<circle cx="91.2" cy="218.6" r="1.3"/>
<circle cx="109.5" cy="258.2" r="1.3"/>
<circle cx="133.9" cy="291.1" r="1.3"/>
<circle cx="119.6" cy="274.9" r="1.3"/>
<circle cx="139.4" cy="295.8" r="1.3"/>
<circle cx="90.9" cy="209.1" r="1.3"/>
<circle cx="102.6" cy="247.3" r="1.3"/>
<circle cx="107.3" cy="249.6" r="1.3"/>
<circle cx="113.3" cy="260.1" r="1.3"/>
<circle cx="103.1" cy="235.7" r="1.3"/>
<circle cx="112.9" cy="264.9" r="1.3"/>
<circle cx="91.7" cy="205.0" r="1.3"/>
<circle cx="113.7" cy="266.4" r="1.3"/>
<circle cx="92.9" cy="215.9" r="1.3"/>
<circle cx="103.4" cy="248.1" r="1.3"/>
<circle cx="96.3" cy="233.7" r="1.3"/>
<circle cx="121.6" cy="274.7" r="1.3"/>
<circle cx="102.3" cy="242.0" r="1.3"/>
<circle cx="138.3" cy="294.7" r="1.3"/>
<circle cx="125.1" cy="279.2" r="1.3"/>
<circle cx="93.9" cy="223.3" r="1.3"/>
<circle cx="124.5" cy="280.8" r="1.3"/>
<circle cx="91.6" cy="220.5" r="1.3"/>
<circle cx="99.7" cy="237.4" r="1.3"/>
<circle cx="91.5" cy="221.9" r="1.3"/>
<circle cx="101.9" cy="243.1" r="1.3"/>
<circle cx="111.4" cy="262.2" r="1.3"/>
<circle cx="125.9" cy="283.0" r="1.3"/>
<circle cx="132.3" cy="288.5" r="1.3"/>
<circle cx="125.3" cy="280.5" r="1.3"/>
<circle cx="137.3" cy="293.4" r="1.3"/>
<circle cx="119.3" cy="274.7" r="1.3"/>
<circle cx="132.2" cy="288.3" r="1.3"/>
<circle cx="130.4" cy="286.9" r="1.3"/>
<circle cx="115.3" cy="263.2" r="1.3"/>
<circle cx="124.6" cy="281.3" r="1.3"/>
<circle cx="107.0" cy="248.5" r="1.3"/>
<circle cx="129.5" cy="286.0" r="1.3"/>
<circle cx="89.2" cy="216.9" r="1.3"/>
<circle cx="103.0" cy="244.3" r="1.3"/>
<circle cx="126.6" cy="283.9" r="1.3"/>
<circle cx="102.3" cy="241.8" r="1.3"/>
<circle cx="125.2" cy="281.5" r="1.3"/>
<circle cx="137.7" cy="294.3" r="1.3"/>
<circle cx="109.1" cy="259.7" r="1.3"/>
<circle cx="116.3" cy="264.7" r="1.3"/>
<circle cx="140.6" cy="296.6" r="1.3"/>
<circle cx="129.9" cy="287.6" r="1.3"/>
<circle cx="109.4" cy="258.6" r="1.3"/>
<circle cx="96.5" cy="231.0" r="1.3"/>
<circle cx="118.4" cy="274.1" r="1.3"/>
<circle cx="99.9" cy="237.0" r="1.3"/>
<circle cx="96.4" cy="223.2" r="1.3"/>
<circle cx="102.3" cy="245.6" r="1.3"/>
<circle cx="139.9" cy="295.8" r="1.3"/>
<circle cx="93.7" cy="227.2" r="1.3"/>
<circle cx="109.0" cy="254.5" r="1.3"/>
<circle cx="104.0" cy="250.1" r="1.3"/>
<circle cx="110.4" cy="256.8" r="1.3"/>
<circle cx="132.3" cy="288.9" r="1.3"/>
<circle cx="111.6" cy="258.8" r="1.3"/>
<circle cx="112.0" cy="264.5" r="1.3"/>
<circle cx="103.5" cy="240.8" r="1.3"/>
<circle cx="132.9" cy="289.3" r="1.3"/>
<circle cx="125.3" cy="279.6" r="1.3"/>
<circle cx="90.8" cy="219.5" r="1.3"/>
<circle cx="94.0" cy="225.9" r="1.3"/>
<circle cx="134.3" cy="291.5" r="1.3"/>
<circle cx="110.9" cy="253.3" r="1.3"/>
<circle cx="136.5" cy="291.9" r="1.3"/>
<circle cx="97.0" cy="235.9" r="1.3"/>
<circle cx="88.4" cy="214.6" r="1.3"/>
<circle cx="111.9" cy="264.8" r="1.3"/>
<circle cx="89.3" cy="201.4" r="1.3"/>
<circle cx="115.7" cy="270.1" r="1.3"/>
<circle cx="120.8" cy="274.4" r="1.3"/>
<circle cx="115.2" cy="269.7" r="1.3"/>
<circle cx="114.9" cy="267.5" r="1.3"/>
<circle cx="96.4" cy="219.1" r="1.3"/>
<circle cx="122.4" cy="279.0" r="1.3"/>
<circle cx="115.3" cy="269.7" r="1.3"/>
<circle cx="100.7" cy="243.8" r="1.3"/>
<circle cx="107.1" cy="253.2" r="1.3"/>
<circle cx="90.5" cy="207.4" r="1.3"/>
<circle cx="112.1" cy="260.7" r="1.3"/>
<circle cx="100.2" cy="233.1" r="1.3"/>
<circle cx="120.9" cy="275.6" r="1.3"/>
<circle cx="89.3" cy="198.5" r="1.3"/>
<circle cx="123.9" cy="280.1" r="1.3"/>
<circle cx="140.5" cy="296.1" r="1.3"/>
<circle cx="93.6" cy="224.9" r="1.3"/>
<circle cx="98.7" cy="232.1" r="1.3"/>
<circle cx="131.5" cy="287.4" r="1.3"/>
<circle cx="110.5" cy="254.5" r="1.3"/>
<circle cx="128.2" cy="284.4" r="1.3"/>
<circle cx="127.8" cy="282.7" r="1.3"/>
<circle cx="132.1" cy="289.3" r="1.3"/>
<circle cx="108.7" cy="251.0" r="1.3"/>
<circle cx="120.6" cy="271.9" r="1.3"/>
<circle cx="110.4" cy="256.6" r="1.3"/>
<circle cx="88.6" cy="214.0" r="1.3"/>
<circle cx="121.1" cy="276.3" r="1.3"/>
<circle cx="123.9" cy="277.9" r="1.3"/>
<circle cx="110.9" cy="253.7" r="1.3"/>
<circle cx="104.4" cy="247.6" r="1.3"/>
<circle cx="87.7" cy="212.1" r="1.3"/>
<circle cx="113.9" cy="266.7" r="1.3"/>
<circle cx="98.6" cy="234.9" r="1.3"/>
<circle cx="89.0" cy="196.7" r="1.3"/>
<circle cx="87.7" cy="203.3" r="1.3"/>
<circle cx="89.1" cy="208.6" r="1.3"/>
<circle cx="102.5" cy="247.3" r="1.3"/>
<circle cx="141.5" cy="297.5" r="1.3"/>
<circle cx="105.8" cy="252.4" r="1.3"/>
<circle cx="103.9" cy="237.4" r="1.3"/>
<circle cx="126.0" cy="279.2" r="1.3"/>
<circle cx="128.1" cy="284.7" r="1.3"/>
<circle cx="131.3" cy="288.9" r="1.3"/>
<circle cx="96.2" cy="234.3" r="1.3"/>
<circle cx="92.6" cy="219.4" r="1.3"/>
<circle cx="137.8" cy="293.9" r="1.3"/>
<circle cx="99.0" cy="239.7" r="1.3"/>
<circle cx="141.3" cy="297.6" r="1.3"/>
<circle cx="91.0" cy="219.2" r="1.3"/>
<circle cx="132.4" cy="288.3" r="1.3"/>
<circle cx="121.8" cy="275.7" r="1.3"/>
<circle cx="140.8" cy="296.9" r="1.3"/>
<circle cx="121.0" cy="272.4" r="1.3"/>
<circle cx="94.4" cy="223.8" r="1.3"/>
<circle cx="89.4" cy="217.4" r="1.3"/>
<circle cx="87.9" cy="195.8" r="1.3"/>
<circle cx="135.7" cy="291.5" r="1.3"/>
<circle cx="87.4" cy="206.9" r="1.3"/>
<circle cx="135.1" cy="290.9" r="1.3"/>
<circle cx="100.0" cy="240.2" r="1.3"/>
<circle cx="103.3" cy="242.9" r="1.3"/>
<circle cx="88.6" cy="215.6" r="1.3"/>
<circle cx="104.6" cy="250.9" r="1.3"/>
<circle cx="91.8" cy="220.4" r="1.3"/>
<circle cx="95.7" cy="220.9" r="1.3"/>
<circle cx="88.6" cy="209.9" r="1.3"/>
<circle cx="130.5" cy="288.2" r="1.3"/>
<circle cx="88.4" cy="198.1" r="1.3"/>
<circle cx="90.1" cy="214.5" r="1.3"/>
<circle cx="90.4" cy="219.5" r="1.3"/>
<circle cx="141.6" cy="297.5" r="1.3"/>
<circle cx="139.9" cy="296.2" r="1.3"/>
<circle cx="95.5" cy="228.3" r="1.3"/>
<circle cx="103.2" cy="248.1" r="1.3"/>
<circle cx="131.7" cy="289.1" r="1.3"/>
<circle cx="114.1" cy="267.8" r="1.3"/>
<circle cx="195.9" cy="219.7" r="1.3"/>
<circle cx="169.3" cy="266.8" r="1.3"/>
<circle cx="184.5" cy="234.3" r="1.3"/>
<circle cx="166.1" cy="278.0" r="1.3"/>
<circle cx="157.0" cy="283.8" r="1.3"/>
<circle cx="179.8" cy="241.7" r="1.3"/>
<circle cx="194.1" cy="210.2" r="1.3"/>
<circle cx="183.7" cy="245.9" r="1.3"/>
<circle cx="162.2" cy="278.6" r="1.3"/>
<circle cx="172.4" cy="267.2" r="1.3"/>
<circle cx="182.5" cy="243.7" r="1.3"/>
<circle cx="182.9" cy="248.3" r="1.3"/>
<circle cx="198.2" cy="214.3" r="1.3"/>
<circle cx="191.5" cy="217.2" r="1.3"/>
<circle cx="179.5" cy="246.7" r="1.3"/>
<circle cx="157.6" cy="284.3" r="1.3"/>
<circle cx="196.0" cy="220.3" r="1.3"/>
<circle cx="198.8" cy="206.0" r="1.3"/>
<circle cx="195.2" cy="207.8" r="1.3"/>
<circle cx="188.3" cy="232.2" r="1.3"/>
<circle cx="181.9" cy="247.0" r="1.3"/>
<circle cx="168.4" cy="274.3" r="1.3"/>
<circle cx="191.7" cy="226.4" r="1.3"/>
<circle cx="163.0" cy="277.3" r="1.3"/>
<circle cx="162.5" cy="282.0" r="1.3"/>
<circle cx="147.3" cy="293.9" r="1.3"/>
<circle cx="184.8" cy="235.8" r="1.3"/>
<circle cx="183.2" cy="247.6" r="1.3"/>
<circle cx="184.5" cy="244.8" r="1.3"/>
<circle cx="146.5" cy="295.2" r="1.3"/>
<circle cx="173.1" cy="258.7" r="1.3"/>
<circle cx="158.1" cy="286.0" r="1.3"/>
<circle cx="192.5" cy="218.8" r="1.3"/>
<circle cx="176.3" cy="248.8" r="1.3"/>
<circle cx="194.7" cy="217.2" r="1.3"/>
<circle cx="149.5" cy="293.2" r="1.3"/>
<circle cx="177.0" cy="260.3" r="1.3"/>
<circle cx="148.5" cy="293.7" r="1.3"/>
<circle cx="183.6" cy="240.6" r="1.3"/>
<circle cx="188.2" cy="234.1" r="1.3"/>
<circle cx="176.5" cy="256.2" r="1.3"/>
<circle cx="194.9" cy="211.8" r="1.3"/>
<circle cx="179.2" cy="249.5" r="1.3"/>
<circle cx="194.1" cy="223.7" r="1.3"/>
<circle cx="182.6" cy="245.6" r="1.3"/>
<circle cx="194.9" cy="215.9" r="1.3"/>
<circle cx="187.9" cy="220.9" r="1.3"/>
<circle cx="169.4" cy="273.8" r="1.3"/>
<circle cx="158.7" cy="284.5" r="1.3"/>
<circle cx="188.2" cy="232.1" r="1.3"/>
<circle cx="171.6" cy="270.1" r="1.3"/>
<circle cx="188.4" cy="228.2" r="1.3"/>
<circle cx="159.0" cy="282.2" r="1.3"/>
<circle cx="168.1" cy="270.2" r="1.3"/>
<circle cx="180.8" cy="241.6" r="1.3"/>
<circle cx="154.4" cy="289.2" r="1.3"/>
<circle cx="177.7" cy="244.0" r="1.3"/>
<circle cx="183.4" cy="235.3" r="1.3"/>
<circle cx="178.0" cy="255.9" r="1.3"/>
<circle cx="182.2" cy="239.7" r="1.3"/>
<circle cx="187.0" cy="232.4" r="1.3"/>
<circle cx="189.0" cy="224.9" r="1.3"/>
<circle cx="182.8" cy="244.2" r="1.3"/>
<circle cx="194.9" cy="223.0" r="1.3"/>
<circle cx="180.6" cy="253.1" r="1.3"/>
<circle cx="188.3" cy="225.1" r="1.3"/>
<circle cx="148.6" cy="294.0" r="1.3"/>
<circle cx="155.0" cy="288.8" r="1.3"/>
<circle cx="179.3" cy="251.3" r="1.3"/>
<circle cx="167.6" cy="273.9" r="1.3"/>
<circle cx="181.4" cy="246.1" r="1.3"/>
<circle cx="188.7" cy="232.3" r="1.3"/>
<circle cx="185.3" cy="228.1" r="1.3"/>
<circle cx="183.4" cy="247.0" r="1.3"/>
<circle cx="186.4" cy="233.5" r="1.3"/>
<circle cx="155.0" cy="285.5" r="1.3"/>
<circle cx="184.0" cy="237.8" r="1.3"/>
<circle cx="190.4" cy="227.2" r="1.3"/>
<circle cx="163.5" cy="279.6" r="1.3"/>
<circle cx="155.0" cy="287.1" r="1.3"/>
<circle cx="144.5" cy="297.4" r="1.3"/>
<circle cx="184.0" cy="244.8" r="1.3"/>
<circle cx="175.2" cy="258.4" r="1.3"/>
<circle cx="144.6" cy="297.8" r="1.3"/>
<circle cx="183.6" cy="234.6" r="1.3"/>
<circle cx="174.9" cy="264.9" r="1.3"/>
<circle cx="161.3" cy="281.4" r="1.3"/>
<circle cx="197.2" cy="211.3" r="1.3"/>
<circle cx="192.8" cy="218.9" r="1.3"/>
<circle cx="144.6" cy="298.2" r="1.3"/>
<circle cx="178.3" cy="246.7" r="1.3"/>
<circle cx="165.4" cy="277.5" r="1.3"/>
<circle cx="189.8" cy="225.0" r="1.3"/>
<circle cx="154.4" cy="288.1" r="1.3"/>
<circle cx="185.5" cy="238.8" r="1.3"/>
<circle cx="155.9" cy="286.6" r="1.3"/>
<circle cx="184.1" cy="237.7" r="1.3"/>
<circle cx="187.9" cy="224.2" r="1.3"/>
<circle cx="191.7" cy="222.9" r="1.3"/>
<circle cx="178.0" cy="243.8" r="1.3"/>
<circle cx="185.5" cy="232.3" r="1.3"/>
<circle cx="188.5" cy="223.5" r="1.3"/>
<circle cx="167.8" cy="276.0" r="1.3"/>
<circle cx="191.6" cy="228.9" r="1.3"/>
<circle cx="192.7" cy="221.5" r="1.3"/>
<circle cx="181.6" cy="247.9" r="1.3"/>
<circle cx="191.8" cy="228.1" r="1.3"/>
<circle cx="195.3" cy="220.8" r="1.3"/>
<circle cx="175.3" cy="262.1" r="1.3"/>
<circle cx="173.8" cy="266.6" r="1.3"/>
<circle cx="163.9" cy="280.6" r="1.3"/>
<circle cx="160.6" cy="280.7" r="1.3"/>
<circle cx="187.9" cy="228.3" r="1.3"/>
<circle cx="148.7" cy="294.0" r="1.3"/>
<circle cx="183.9" cy="244.8" r="1.3"/>
<circle cx="198.2" cy="204.2" r="1.3"/>
<circle cx="154.9" cy="287.6" r="1.3"/>
<circle cx="194.0" cy="216.7" r="1.3"/>
<circle cx="159.5" cy="284.7" r="1.3"/>
<circle cx="181.9" cy="248.9" r="1.3"/>
<circle cx="186.4" cy="231.8" r="1.3"/>
<circle cx="193.2" cy="223.7" r="1.3"/>
<circle cx="194.3" cy="209.2" r="1.3"/>
<circle cx="176.3" cy="261.9" r="1.3"/>
<circle cx="189.4" cy="229.2" r="1.3"/>
<circle cx="198.3" cy="203.7" r="1.3"/>
<circle cx="182.5" cy="233.8" r="1.3"/>
<circle cx="155.3" cy="285.8" r="1.3"/>
<circle cx="196.3" cy="220.0" r="1.3"/>
<circle cx="175.2" cy="262.0" r="1.3"/>
<circle cx="172.9" cy="261.5" r="1.3"/>
<circle cx="161.9" cy="281.9" r="1.3"/>
<circle cx="168.7" cy="269.6" r="1.3"/>
<circle cx="193.6" cy="222.9" r="1.3"/>
<circle cx="191.1" cy="223.7" r="1.3"/>
<circle cx="161.7" cy="281.1" r="1.3"/>
<circle cx="195.3" cy="217.6" r="1.3"/>
<circle cx="192.7" cy="227.9" r="1.3"/>
<circle cx="168.7" cy="274.2" r="1.3"/>
<circle cx="159.8" cy="282.7" r="1.3"/>
<circle cx="197.6" cy="216.5" r="1.3"/>
<circle cx="191.9" cy="212.8" r="1.3"/>
<circle cx="166.9" cy="271.1" r="1.3"/>
<circle cx="197.3" cy="199.8" r="1.3"/>
<circle cx="151.0" cy="290.9" r="1.3"/>
<circle cx="162.4" cy="280.1" r="1.3"/>
<circle cx="177.5" cy="245.5" r="1.3"/>
<circle cx="170.3" cy="272.7" r="1.3"/>
<circle cx="166.9" cy="277.4" r="1.3"/>
<circle cx="146.7" cy="295.2" r="1.3"/>
<circle cx="197.5" cy="217.1" r="1.3"/>
<circle cx="188.4" cy="234.7" r="1.3"/>
<circle cx="197.9" cy="204.8" r="1.3"/>
<circle cx="197.3" cy="215.8" r="1.3"/>
<circle cx="180.3" cy="238.3" r="1.3"/>
<circle cx="188.7" cy="222.5" r="1.3"/>
<circle cx="180.5" cy="251.1" r="1.3"/>
<circle cx="177.8" cy="249.5" r="1.3"/>
<circle cx="173.4" cy="262.3" r="1.3"/>
<circle cx="165.8" cy="273.1" r="1.3"/>
<circle cx="194.3" cy="221.4" r="1.3"/>
<circle cx="172.6" cy="266.1" r="1.3"/>
<circle cx="192.0" cy="225.2" r="1.3"/>
<circle cx="198.5" cy="208.2" r="1.3"/>
<circle cx="171.0" cy="271.4" r="1.3"/>
<circle cx="145.6" cy="296.4" r="1.3"/>
<circle cx="183.4" cy="243.0" r="1.3"/>
<circle cx="182.6" cy="248.9" r="1.3"/>
<circle cx="174.3" cy="259.9" r="1.3"/>
<circle cx="176.3" cy="260.8" r="1.3"/>
<circle cx="162.9" cy="281.1" r="1.3"/>
<circle cx="172.5" cy="259.2" r="1.3"/>
<circle cx="195.5" cy="208.3" r="1.3"/>
<circle cx="170.7" cy="270.5" r="1.3"/>
<circle cx="164.4" cy="279.5" r="1.3"/>
<circle cx="180.9" cy="249.8" r="1.3"/>
<circle cx="198.0" cy="216.0" r="1.3"/>
<circle cx="173.3" cy="258.2" r="1.3"/>
<circle cx="152.5" cy="288.2" r="1.3"/>
<circle cx="184.4" cy="244.2" r="1.3"/>
<circle cx="180.6" cy="253.1" r="1.3"/>
<circle cx="193.1" cy="210.7" r="1.3"/>
<circle cx="158.7" cy="282.8" r="1.3"/>
<circle cx="192.0" cy="220.7" r="1.3"/>
<circle cx="187.2" cy="235.7" r="1.3"/>
<circle cx="171.4" cy="262.3" r="1.3"/>
<circle cx="180.4" cy="251.1" r="1.3"/>
<circle cx="146.0" cy="295.4" r="1.3"/>
<circle cx="145.6" cy="295.7" r="1.3"/>
<circle cx="166.8" cy="278.0" r="1.3"/>
<circle cx="178.3" cy="256.1" r="1.3"/>
<circle cx="149.0" cy="293.4" r="1.3"/>
<circle cx="194.0" cy="222.5" r="1.3"/>
<circle cx="187.1" cy="238.5" r="1.3"/>
<circle cx="188.0" cy="230.4" r="1.3"/>
<circle cx="180.5" cy="247.5" r="1.3"/>
<circle cx="182.2" cy="249.5" r="1.3"/>
<circle cx="197.2" cy="217.5" r="1.3"/>
<circle cx="194.9" cy="217.3" r="1.3"/>
<circle cx="195.2" cy="214.6" r="1.3"/>
<circle cx="181.0" cy="245.7" r="1.3"/>
<circle cx="189.0" cy="234.3" r="1.3"/>
<circle cx="159.1" cy="283.7" r="1.3"/>
<circle cx="170.5" cy="272.1" r="1.3"/>
<circle cx="172.8" cy="268.3" r="1.3"/>
<circle cx="189.5" cy="232.5" r="1.3"/>
<circle cx="176.9" cy="251.1" r="1.3"/>
<circle cx="169.3" cy="274.2" r="1.3"/>
<circle cx="191.2" cy="230.4" r="1.3"/>
<circle cx="198.0" cy="213.1" r="1.3"/>
<circle cx="181.8" cy="236.2" r="1.3"/>
<circle cx="158.1" cy="284.6" r="1.3"/>
<circle cx="159.6" cy="284.5" r="1.3"/>
<circle cx="188.2" cy="227.0" r="1.3"/>
<circle cx="165.0" cy="279.6" r="1.3"/>
<circle cx="166.3" cy="270.0" r="1.3"/>
<circle cx="177.4" cy="249.5" r="1.3"/>
<circle cx="151.6" cy="290.4" r="1.3"/>
<circle cx="197.8" cy="211.0" r="1.3"/>
<circle cx="180.5" cy="253.1" r="1.3"/>
<circle cx="198.1" cy="202.0" r="1.3"/>
<circle cx="181.2" cy="250.1" r="1.3"/>
<circle cx="190.3" cy="231.3" r="1.3"/>
<circle cx="179.0" cy="248.4" r="1.3"/>
<circle cx="150.1" cy="292.9" r="1.3"/>
<circle cx="167.8" cy="276.8" r="1.3"/>
<circle cx="163.4" cy="278.8" r="1.3"/>
<circle cx="185.5" cy="241.6" r="1.3"/>
<circle cx="183.4" cy="232.7" r="1.3"/>
<circle cx="155.5" cy="287.0" r="1.3"/>
<circle cx="179.5" cy="252.6" r="1.3"/>
<circle cx="195.6" cy="219.6" r="1.3"/>
<circle cx="193.8" cy="218.4" r="1.3"/>
<circle cx="147.2" cy="293.8" r="1.3"/>
<circle cx="177.1" cy="250.8" r="1.3"/>
<circle cx="166.9" cy="274.0" r="1.3"/>
<circle cx="190.9" cy="229.4" r="1.3"/>
<circle cx="155.8" cy="284.7" r="1.3"/>
<circle cx="190.0" cy="223.0" r="1.3"/>
<circle cx="180.8" cy="245.2" r="1.3"/>
<circle cx="180.7" cy="249.8" r="1.3"/>
<circle cx="192.3" cy="226.6" r="1.3"/>
<circle cx="184.2" cy="242.2" r="1.3"/>
<circle cx="196.8" cy="215.5" r="1.3"/>
<circle cx="184.3" cy="238.3" r="1.3"/>
<circle cx="190.2" cy="223.5" r="1.3"/>
<circle cx="151.1" cy="291.7" r="1.3"/>
<circle cx="180.5" cy="253.3" r="1.3"/>
<circle cx="173.7" cy="253.0" r="1.3"/>
<circle cx="168.1" cy="274.0" r="1.3"/>
<circle cx="195.6" cy="219.9" r="1.3"/>
<circle cx="197.1" cy="213.7" r="1.3"/>
<circle cx="174.1" cy="255.4" r="1.3"/>
<circle cx="194.8" cy="211.3" r="1.3"/>
<circle cx="179.6" cy="255.2" r="1.3"/>
<circle cx="158.6" cy="285.0" r="1.3"/>
<circle cx="197.3" cy="210.4" r="1.3"/>
<circle cx="171.6" cy="259.4" r="1.3"/>
<circle cx="189.3" cy="225.5" r="1.3"/>
<circle cx="185.1" cy="234.0" r="1.3"/>
<circle cx="177.3" cy="258.0" r="1.3"/>
<circle cx="179.1" cy="254.9" r="1.3"/>
<circle cx="145.0" cy="297.1" r="1.3"/>
<circle cx="171.8" cy="268.6" r="1.3"/>
<circle cx="179.9" cy="248.4" r="1.3"/>
<circle cx="173.8" cy="261.3" r="1.3"/>
<circle cx="171.1" cy="270.4" r="1.3"/>
<circle cx="166.4" cy="272.8" r="1.3"/>
<circle cx="164.1" cy="273.8" r="1.3"/>
<circle cx="193.5" cy="220.2" r="1.3"/>
<circle cx="172.4" cy="261.1" r="1.3"/>
<circle cx="144.7" cy="297.4" r="1.3"/>
<circle cx="192.9" cy="209.7" r="1.3"/>
<circle cx="153.5" cy="290.0" r="1.3"/>
<circle cx="168.7" cy="274.4" r="1.3"/>
<circle cx="181.3" cy="244.1" r="1.3"/>
<circle cx="166.4" cy="276.9" r="1.3"/>
<circle cx="155.8" cy="288.0" r="1.3"/>
<circle cx="160.5" cy="283.8" r="1.3"/>
<circle cx="182.1" cy="234.5" r="1.3"/>
<circle cx="177.8" cy="258.0" r="1.3"/>
<circle cx="195.0" cy="218.5" r="1.3"/>
<circle cx="194.2" cy="212.0" r="1.3"/>
<circle cx="187.3" cy="222.4" r="1.3"/>
<circle cx="181.0" cy="251.8" r="1.3"/>
<circle cx="159.5" cy="284.3" r="1.3"/>
<circle cx="164.9" cy="279.3" r="1.3"/>
<circle cx="179.1" cy="242.7" r="1.3"/>
<circle cx="172.6" cy="264.1" r="1.3"/>
<circle cx="175.0" cy="252.8" r="1.3"/>
<circle cx="157.6" cy="285.9" r="1.3"/>
<circle cx="160.4" cy="283.7" r="1.3"/>
<circle cx="144.7" cy="297.9" r="1.3"/>
<circle cx="193.6" cy="202.1" r="1.3"/>
<circle cx="196.9" cy="206.4" r="1.3"/>
<circle cx="196.7" cy="208.3" r="1.3"/>
<circle cx="186.4" cy="226.8" r="1.3"/>
<circle cx="154.6" cy="285.7" r="1.3"/>
<circle cx="192.4" cy="215.5" r="1.3"/>
<circle cx="185.3" cy="236.7" r="1.3"/>
<circle cx="188.1" cy="224.3" r="1.3"/>
<circle cx="185.0" cy="242.9" r="1.3"/>
<circle cx="196.2" cy="209.4" r="1.3"/>
<circle cx="170.0" cy="270.1" r="1.3"/>
<circle cx="190.0" cy="228.4" r="1.3"/>
<circle cx="192.1" cy="227.9" r="1.3"/>
<circle cx="156.0" cy="285.8" r="1.3"/>
<circle cx="179.0" cy="250.4" r="1.3"/>
<circle cx="174.5" cy="260.9" r="1.3"/>
<circle cx="168.5" cy="264.9" r="1.3"/>
<circle cx="171.8" cy="267.9" r="1.3"/>
<circle cx="181.0" cy="235.5" r="1.3"/>
<circle cx="188.6" cy="231.8" r="1.3"/>
<circle cx="144.7" cy="298.3" r="1.3"/>
<circle cx="152.7" cy="290.5" r="1.3"/>
<circle cx="190.2" cy="230.9" r="1.3"/>
<circle cx="197.3" cy="202.6" r="1.3"/>
<circle cx="155.3" cy="288.6" r="1.3"/>
<circle cx="190.4" cy="225.2" r="1.3"/>
<circle cx="185.1" cy="224.2" r="1.3"/>
<circle cx="160.4" cy="282.6" r="1.3"/>
<circle cx="144.7" cy="297.9" r="1.3"/>
<circle cx="170.4" cy="270.6" r="1.3"/>
<circle cx="187.1" cy="232.7" r="1.3"/>
<circle cx="174.7" cy="263.5" r="1.3"/>
<circle cx="182.1" cy="248.9" r="1.3"/>
<circle cx="189.7" cy="218.7" r="1.3"/>
<circle cx="170.8" cy="268.3" r="1.3"/>
<circle cx="198.5" cy="214.0" r="1.3"/>
<circle cx="180.9" cy="247.4" r="1.3"/>
<circle cx="166.1" cy="278.2" r="1.3"/>
<circle cx="164.2" cy="279.2" r="1.3"/>
<circle cx="160.8" cy="279.8" r="1.3"/>
<circle cx="165.9" cy="278.7" r="1.3"/>
<circle cx="197.3" cy="217.3" r="1.3"/>
<circle cx="165.8" cy="277.1" r="1.3"/>
<circle cx="173.0" cy="265.4" r="1.3"/>
<circle cx="164.6" cy="276.6" r="1.3"/>
<circle cx="174.3" cy="263.8" r="1.3"/>
<circle cx="196.5" cy="215.8" r="1.3"/>
<circle cx="190.6" cy="231.4" r="1.3"/>
<circle cx="181.2" cy="251.9" r="1.3"/>
<circle cx="172.4" cy="267.9" r="1.3"/>
<circle cx="191.6" cy="216.2" r="1.3"/>
<circle cx="172.5" cy="259.0" r="1.3"/>
<circle cx="183.0" cy="235.9" r="1.3"/>
<circle cx="191.2" cy="230.3" r="1.3"/>
<circle cx="187.0" cy="229.8" r="1.3"/>
<circle cx="185.2" cy="234.3" r="1.3"/>
<circle cx="190.9" cy="228.2" r="1.3"/>
<circle cx="153.0" cy="290.3" r="1.3"/>
<circle cx="172.4" cy="267.2" r="1.3"/>
<circle cx="193.9" cy="225.7" r="1.3"/>
<circle cx="188.0" cy="231.2" r="1.3"/>
<circle cx="153.9" cy="287.8" r="1.3"/>
<circle cx="178.2" cy="254.3" r="1.3"/>
<circle cx="162.4" cy="281.1" r="1.3"/>
<circle cx="156.5" cy="286.6" r="1.3"/>
<circle cx="178.8" cy="245.5" r="1.3"/>
<circle cx="170.4" cy="270.3" r="1.3"/>
<circle cx="173.1" cy="263.8" r="1.3"/>
<circle cx="169.6" cy="273.5" r="1.3"/>
<circle cx="185.5" cy="242.4" r="1.3"/>
<circle cx="185.4" cy="235.3" r="1.3"/>
<circle cx="162.1" cy="278.6" r="1.3"/>
<circle cx="188.6" cy="226.3" r="1.3"/>
<circle cx="195.6" cy="219.8" r="1.3"/>
<circle cx="190.8" cy="217.7" r="1.3"/>
<circle cx="182.5" cy="245.4" r="1.3"/>
<circle cx="188.7" cy="223.0" r="1.3"/>
<circle cx="161.0" cy="282.9" r="1.3"/>
<circle cx="184.1" cy="240.4" r="1.3"/>
<circle cx="186.1" cy="229.7" r="1.3"/>
<circle cx="152.8" cy="289.8" r="1.3"/>
<circle cx="191.9" cy="224.1" r="1.3"/>
<circle cx="180.5" cy="251.3" r="1.3"/>
<circle cx="167.4" cy="276.4" r="1.3"/>
<circle cx="165.5" cy="277.1" r="1.3"/>
<circle cx="151.2" cy="291.4" r="1.3"/>
<circle cx="179.5" cy="254.7" r="1.3"/>
<circle cx="176.8" cy="250.9" r="1.3"/>
<circle cx="172.4" cy="263.1" r="1.3"/>
<circle cx="192.8" cy="212.9" r="1.3"/>
<circle cx="153.9" cy="289.6" r="1.3"/>
<circle cx="184.8" cy="235.0" r="1.3"/>
<circle cx="153.8" cy="288.3" r="1.3"/>
<circle cx="163.3" cy="280.7" r="1.3"/>
<circle cx="179.6" cy="253.2" r="1.3"/>
<circle cx="194.6" cy="206.7" r="1.3"/>
<circle cx="163.1" cy="281.3" r="1.3"/>
<circle cx="145.8" cy="296.3" r="1.3"/>
<circle cx="186.9" cy="231.2" r="1.3"/>
<circle cx="182.4" cy="249.2" r="1.3"/>
<circle cx="171.0" cy="269.0" r="1.3"/>
<circle cx="197.6" cy="202.4" r="1.3"/>
<circle cx="150.4" cy="290.2" r="1.3"/>
<circle cx="182.5" cy="247.1" r="1.3"/>
<circle cx="169.2" cy="271.4" r="1.3"/>
<circle cx="177.3" cy="254.9" r="1.3"/>
<circle cx="162.4" cy="281.7" r="1.3"/>
<circle cx="185.8" cy="227.4" r="1.3"/>
<circle cx="192.5" cy="216.8" r="1.3"/>
<circle cx="167.9" cy="275.5" r="1.3"/>
<circle cx="181.7" cy="250.7" r="1.3"/>
<circle cx="166.3" cy="275.5" r="1.3"/>
<circle cx="177.1" cy="260.2" r="1.3"/>
<circle cx="191.0" cy="228.3" r="1.3"/>
<circle cx="187.9" cy="226.0" r="1.3"/>
<circle cx="185.3" cy="242.1" r="1.3"/>
<circle cx="158.7" cy="285.4" r="1.3"/>
<circle cx="182.8" cy="248.2" r="1.3"/>
<circle cx="198.4" cy="207.8" r="1.3"/>
<circle cx="191.0" cy="229.8" r="1.3"/>
<circle cx="158.4" cy="284.6" r="1.3"/>
<circle cx="166.3" cy="275.8" r="1.3"/>
<circle cx="193.1" cy="214.9" r="1.3"/>
<circle cx="196.9" cy="218.7" r="1.3"/>
<circle cx="182.9" cy="246.2" r="1.3"/>
<circle cx="175.3" cy="254.6" r="1.3"/>
<circle cx="145.6" cy="296.7" r="1.3"/>
<circle cx="170.2" cy="265.1" r="1.3"/>
<circle cx="165.5" cy="277.9" r="1.3"/>
<circle cx="189.0" cy="234.2" r="1.3"/>
<circle cx="168.9" cy="269.6" r="1.3"/>
<circle cx="192.7" cy="227.4" r="1.3"/>
<circle cx="197.5" cy="213.8" r="1.3"/>
<circle cx="144.5" cy="298.2" r="1.3"/>
<circle cx="179.9" cy="244.0" r="1.3"/>
<circle cx="168.2" cy="271.5" r="1.3"/>
<circle cx="173.2" cy="257.8" r="1.3"/>
<circle cx="193.5" cy="207.6" r="1.3"/>
<circle cx="171.2" cy="270.9" r="1.3"/>
<circle cx="149.5" cy="291.7" r="1.3"/>
<circle cx="161.0" cy="280.3" r="1.3"/>
<circle cx="182.1" cy="237.2" r="1.3"/>
<circle cx="159.2" cy="284.5" r="1.3"/>
<circle cx="176.5" cy="247.7" r="1.3"/>
<circle cx="146.6" cy="295.1" r="1.3"/>
<circle cx="163.2" cy="281.0" r="1.3"/>
<circle cx="186.0" cy="239.7" r="1.3"/>
<circle cx="153.5" cy="288.5" r="1.3"/>
<circle cx="184.6" cy="232.5" r="1.3"/>
<circle cx="169.3" cy="264.1" r="1.3"/>
<circle cx="189.0" cy="234.1" r="1.3"/>
<circle cx="163.1" cy="280.7" r="1.3"/>
<circle cx="159.4" cy="280.7" r="1.3"/>
<circle cx="185.2" cy="235.4" r="1.3"/>
<circle cx="193.0" cy="226.4" r="1.3"/>
<circle cx="160.8" cy="281.6" r="1.3"/>
<circle cx="183.6" cy="238.0" r="1.3"/>
<circle cx="165.2" cy="279.3" r="1.3"/>
<circle cx="148.6" cy="293.9" r="1.3"/>
<circle cx="155.9" cy="286.5" r="1.3"/>
<circle cx="187.3" cy="232.8" r="1.3"/>
<circle cx="177.0" cy="245.0" r="1.3"/>
<circle cx="164.3" cy="280.1" r="1.3"/>
<circle cx="181.4" cy="239.3" r="1.3"/>
<circle cx="192.3" cy="228.2" r="1.3"/>
<circle cx="159.4" cy="283.6" r="1.3"/>
<circle cx="150.4" cy="290.8" r="1.3"/>
<circle cx="148.6" cy="293.9" r="1.3"/>
<circle cx="176.7" cy="258.6" r="1.3"/>
<circle cx="170.0" cy="263.4" r="1.3"/>
<circle cx="184.1" cy="229.5" r="1.3"/>
<circle cx="161.5" cy="280.6" r="1.3"/>
<circle cx="182.4" cy="238.6" r="1.3"/>
<circle cx="168.6" cy="269.1" r="1.3"/>
<circle cx="194.0" cy="225.3" r="1.3"/>
<circle cx="157.2" cy="286.7" r="1.3"/>
<circle cx="180.9" cy="252.6" r="1.3"/>
<circle cx="168.4" cy="271.1" r="1.3"/>
<circle cx="169.6" cy="272.7" r="1.3"/>
<circle cx="180.8" cy="235.6" r="1.3"/>
<circle cx="164.8" cy="277.3" r="1.3"/>
<circle cx="147.3" cy="294.5" r="1.3"/>
<circle cx="195.9" cy="220.1" r="1.3"/>
<circle cx="161.8" cy="279.6" r="1.3"/>
<circle cx="196.4" cy="207.6" r="1.3"/>
<circle cx="194.8" cy="223.8" r="1.3"/>
<circle cx="182.9" cy="231.6" r="1.3"/>
<circle cx="198.6" cy="211.4" r="1.3"/>
<circle cx="182.8" cy="231.8" r="1.3"/>
<circle cx="192.2" cy="212.1" r="1.3"/>
<circle cx="161.6" cy="280.8" r="1.3"/>
<circle cx="194.4" cy="224.2" r="1.3"/>
<circle cx="183.3" cy="241.0" r="1.3"/>
<circle cx="170.2" cy="271.7" r="1.3"/>
<circle cx="153.1" cy="289.5" r="1.3"/>
<circle cx="177.4" cy="258.4" r="1.3"/>
<circle cx="185.2" cy="228.4" r="1.3"/>
<circle cx="197.7" cy="216.4" r="1.3"/>
<circle cx="167.8" cy="271.8" r="1.3"/>
<circle cx="167.1" cy="277.6" r="1.3"/>
<circle cx="170.9" cy="260.0" r="1.3"/>
<circle cx="170.6" cy="265.1" r="1.3"/>
<circle cx="149.7" cy="292.0" r="1.3"/>
<circle cx="184.3" cy="232.6" r="1.3"/>
<circle cx="193.6" cy="210.2" r="1.3"/>
<circle cx="179.9" cy="246.5" r="1.3"/>
<circle cx="186.3" cy="234.8" r="1.3"/>
<circle cx="173.5" cy="262.5" r="1.3"/>
<circle cx="180.3" cy="252.2" r="1.3"/>
<circle cx="164.5" cy="275.5" r="1.3"/>
<circle cx="171.8" cy="262.9" r="1.3"/>
<circle cx="153.5" cy="287.5" r="1.3"/>
<circle cx="163.3" cy="279.1" r="1.3"/>
<circle cx="198.2" cy="204.2" r="1.3"/>
<circle cx="178.3" cy="256.4" r="1.3"/>
<circle cx="174.5" cy="255.5" r="1.3"/>
<circle cx="198.5" cy="213.1" r="1.3"/>
<circle cx="169.3" cy="263.3" r="1.3"/>
<circle cx="187.7" cy="229.0" r="1.3"/>
<circle cx="161.3" cy="281.0" r="1.3"/>
<circle cx="184.4" cy="238.4" r="1.3"/>
<circle cx="194.7" cy="214.4" r="1.3"/>
<circle cx="190.8" cy="225.9" r="1.3"/>
<circle cx="167.9" cy="276.1" r="1.3"/>
<circle cx="165.3" cy="277.7" r="1.3"/>
<circle cx="169.2" cy="274.4" r="1.3"/>
<circle cx="188.2" cy="236.0" r="1.3"/>
<circle cx="170.2" cy="268.6" r="1.3"/>
<circle cx="181.1" cy="245.6" r="1.3"/>
<circle cx="156.0" cy="284.1" r="1.3"/>
<circle cx="148.2" cy="294.3" r="1.3"/>
<circle cx="182.8" cy="239.3" r="1.3"/>
<circle cx="185.6" cy="239.3" r="1.3"/>
<circle cx="188.4" cy="233.7" r="1.3"/>
<circle cx="170.0" cy="269.9" r="1.3"/>
</g>
<g fill="#0000ff">
<circle cx="57.5" cy="116.3" r="1.4"/>
<circle cx="60.1" cy="126.0" r="1.4"/>
<circle cx="48.5" cy="97.0" r="1.4"/>
<circle cx="84.0" cy="191.2" r="1.4"/>
<circle cx="61.6" cy="138.8" r="1.4"/>
<circle cx="53.1" cy="113.0" r="1.4"/>
<circle cx="86.7" cy="203.0" r="1.4"/>
<circle cx="48.1" cy="103.3" r="1.4"/>
<circle cx="75.5" cy="155.4" r="1.4"/>
<circle cx="86.4" cy="201.6" r="1.4"/>
<circle cx="49.1" cy="106.3" r="1.4"/>
<circle cx="71.4" cy="160.6" r="1.4"/>
<circle cx="46.8" cy="91.0" r="1.4"/>
<circle cx="83.0" cy="192.7" r="1.4"/>
<circle cx="78.2" cy="171.7" r="1.4"/>
<circle cx="85.9" cy="200.4" r="1.4"/>
<circle cx="63.9" cy="134.2" r="1.4"/>
<circle cx="72.9" cy="157.3" r="1.4"/>
<circle cx="62.5" cy="122.8" r="1.4"/>
<circle cx="50.3" cy="102.9" r="1.4"/>
<circle cx="55.4" cy="116.6" r="1.4"/>
<circle cx="80.6" cy="179.0" r="1.4"/>
<circle cx="48.9" cy="97.7" r="1.4"/>
<circle cx="70.2" cy="155.3" r="1.4"/>
<circle cx="81.4" cy="190.1" r="1.4"/>
<circle cx="81.6" cy="187.0" r="1.4"/>
<circle cx="63.2" cy="122.1" r="1.4"/>
<circle cx="69.1" cy="144.1" r="1.4"/>
<circle cx="80.7" cy="178.6" r="1.4"/>
<circle cx="52.2" cy="101.4" r="1.4"/>
<circle cx="45.0" cy="93.4" r="1.4"/>
<circle cx="58.6" cy="125.6" r="1.4"/>
<circle cx="53.0" cy="102.8" r="1.4"/>
<circle cx="57.8" cy="114.7" r="1.4"/>
<circle cx="71.1" cy="161.2" r="1.4"/>
<circle cx="78.0" cy="167.5" r="1.4"/>
<circle cx="79.1" cy="176.6" r="1.4"/>
<circle cx="46.6" cy="99.1" r="1.4"/>
<circle cx="61.8" cy="129.6" r="1.4"/>
<circle cx="46.7" cy="91.4" r="1.4"/>
<circle cx="67.7" cy="153.5" r="1.4"/>
<circle cx="55.7" cy="117.6" r="1.4"/>
<circle cx="50.5" cy="101.4" r="1.4"/>
<circle cx="86.6" cy="209.3" r="1.4"/>
<circle cx="64.3" cy="131.3" r="1.4"/>
<circle cx="81.4" cy="174.7" r="1.4"/>
<circle cx="43.8" cy="89.0" r="1.4"/>
<circle cx="82.4" cy="187.0" r="1.4"/>
<circle cx="69.3" cy="153.2" r="1.4"/>
<circle cx="82.6" cy="180.7" r="1.4"/>
<circle cx="80.8" cy="190.5" r="1.4"/>
<circle cx="58.6" cy="113.7" r="1.4"/>
<circle cx="81.1" cy="189.0" r="1.4"/>
<circle cx="62.4" cy="137.8" r="1.4"/>
<circle cx="73.9" cy="151.3" r="1.4"/>
<circle cx="57.9" cy="123.7" r="1.4"/>
<circle cx="61.5" cy="121.0" r="1.4"/>
<circle cx="65.9" cy="135.0" r="1.4"/>
<circle cx="51.9" cy="103.0" r="1.4"/>
<circle cx="78.0" cy="177.7" r="1.4"/>
<circle cx="80.1" cy="180.9" r="1.4"/>
<circle cx="71.2" cy="146.3" r="1.4"/>
<circle cx="65.7" cy="129.1" r="1.4"/>
<circle cx="86.4" cy="190.4" r="1.4"/>
<circle cx="70.6" cy="150.6" r="1.4"/>
<circle cx="86.1" cy="194.7" r="1.4"/>
<circle cx="55.8" cy="124.8" r="1.4"/>
<circle cx="54.5" cy="117.9" r="1.4"/>
<circle cx="80.1" cy="180.0" r="1.4"/>
<circle cx="78.8" cy="173.5" r="1.4"/>
<circle cx="47.0" cy="97.1" r="1.4"/>
<circle cx="49.9" cy="108.3" r="1.4"/>
<circle cx="83.6" cy="198.0" r="1.4"/>
<circle cx="60.7" cy="131.4" r="1.4"/>
<circle cx="71.4" cy="151.6" r="1.4"/>
<circle cx="47.1" cy="92.4" r="1.4"/>
<circle cx="56.8" cy="127.7" r="1.4"/>
<circle cx="78.1" cy="171.9" r="1.4"/>
<circle cx="49.9" cy="108.5" r="1.4"/>
<circle cx="67.2" cy="142.8" r="1.4"/>
<circle cx="56.3" cy="119.9" r="1.4"/>
<circle cx="54.9" cy="106.6" r="1.4"/>
<circle cx="81.4" cy="191.3" r="1.4"/>
<circle cx="57.6" cy="124.0" r="1.4"/>
<circle cx="48.7" cy="103.9" r="1.4"/>
<circle cx="59.5" cy="128.8" r="1.4"/>
<circle cx="54.9" cy="120.0" r="1.4"/>
<circle cx="64.7" cy="142.9" r="1.4"/>
<circle cx="74.3" cy="155.5" r="1.4"/>
<circle cx="82.6" cy="182.9" r="1.4"/>
<circle cx="45.6" cy="92.2" r="1.4"/>
<circle cx="72.1" cy="153.8" r="1.4"/>
<circle cx="50.4" cy="104.8" r="1.4"/>
<circle cx="57.1" cy="121.0" r="1.4"/>
<circle cx="47.2" cy="97.7" r="1.4"/>
<circle cx="59.5" cy="119.8" r="1.4"/>
<circle cx="53.2" cy="103.7" r="1.4"/>
<circle cx="55.6" cy="122.3" r="1.4"/>
<circle cx="53.7" cy="118.4" r="1.4"/>
<circle cx="47.9" cy="98.6" r="1.4"/>
<circle cx="57.7" cy="117.4" r="1.4"/>
<circle cx="54.3" cy="105.1" r="1.4"/>
<circle cx="51.7" cy="113.7" r="1.4"/>
<circle cx="71.1" cy="161.6" r="1.4"/>
<circle cx="84.3" cy="193.9" r="1.4"/>
<circle cx="73.5" cy="159.4" r="1.4"/>
<circle cx="54.7" cy="108.7" r="1.4"/>
<circle cx="86.6" cy="193.9" r="1.4"/>
<circle cx="80.4" cy="173.5" r="1.4"/>
<circle cx="53.7" cy="119.0" r="1.4"/>
<circle cx="50.1" cy="108.1" r="1.4"/>
<circle cx="80.1" cy="171.4" r="1.4"/>
<circle cx="79.1" cy="185.1" r="1.4"/>
<circle cx="57.5" cy="121.3" r="1.4"/>
<circle cx="77.0" cy="176.8" r="1.4"/>
<circle cx="61.0" cy="116.9" r="1.4"/>
<circle cx="62.1" cy="120.4" r="1.4"/>
<circle cx="65.7" cy="146.2" r="1.4"/>
<circle cx="45.1" cy="91.3" r="1.4"/>
<circle cx="85.5" cy="206.4" r="1.4"/>
<circle cx="58.7" cy="124.9" r="1.4"/>
<circle cx="80.9" cy="189.8" r="1.4"/>
<circle cx="54.2" cy="105.2" r="1.4"/>
<circle cx="51.9" cy="107.6" r="1.4"/>
<circle cx="54.4" cy="112.0" r="1.4"/>
<circle cx="71.0" cy="146.5" r="1.4"/>
<circle cx="65.9" cy="129.3" r="1.4"/>
<circle cx="68.1" cy="148.1" r="1.4"/>
<circle cx="49.0" cy="104.7" r="1.4"/>
<circle cx="79.1" cy="171.8" r="1.4"/>
<circle cx="80.5" cy="187.0" r="1.4"/>
<circle cx="65.1" cy="140.4" r="1.4"/>
<circle cx="49.3" cy="98.5" r="1.4"/>
<circle cx="72.5" cy="155.5" r="1.4"/>
<circle cx="44.7" cy="89.4" r="1.4"/>
<circle cx="83.5" cy="189.4" r="1.4"/>
<circle cx="73.0" cy="149.6" r="1.4"/>
<circle cx="71.8" cy="146.5" r="1.4"/>
<circle cx="60.0" cy="121.2" r="1.4"/>
<circle cx="82.1" cy="182.9" r="1.4"/>
<circle cx="54.9" cy="119.8" r="1.4"/>
<circle cx="45.1" cy="93.1" r="1.4"/>
<circle cx="65.0" cy="148.2" r="1.4"/>
<circle cx="82.0" cy="188.7" r="1.4"/>
<circle cx="68.9" cy="156.9" r="1.4"/>
<circle cx="52.4" cy="111.0" r="1.4"/>
<circle cx="80.5" cy="178.7" r="1.4"/>
<circle cx="58.0" cy="116.1" r="1.4"/>
<circle cx="62.3" cy="124.6" r="1.4"/>
<circle cx="52.7" cy="116.4" r="1.4"/>
<circle cx="82.1" cy="191.8" r="1.4"/>
<circle cx="43.9" cy="88.7" r="1.4"/>
<circle cx="43.9" cy="88.6" r="1.4"/>
<circle cx="86.4" cy="189.7" r="1.4"/>
<circle cx="63.5" cy="136.0" r="1.4"/>
<circle cx="67.5" cy="147.7" r="1.4"/>
<circle cx="45.8" cy="95.9" r="1.4"/>
<circle cx="49.7" cy="101.1" r="1.4"/>
<circle cx="62.3" cy="125.6" r="1.4"/>
<circle cx="63.6" cy="136.9" r="1.4"/>
<circle cx="54.4" cy="110.0" r="1.4"/>
<circle cx="81.5" cy="190.5" r="1.4"/>
<circle cx="84.6" cy="202.7" r="1.4"/>
<circle cx="57.1" cy="115.4" r="1.4"/>
<circle cx="84.8" cy="201.2" r="1.4"/>
<circle cx="80.8" cy="182.9" r="1.4"/>
<circle cx="56.1" cy="115.6" r="1.4"/>
<circle cx="77.7" cy="178.7" r="1.4"/>
<circle cx="68.3" cy="148.6" r="1.4"/>
<circle cx="46.7" cy="92.4" r="1.4"/>
<circle cx="62.3" cy="129.6" r="1.4"/>
<circle cx="81.1" cy="175.9" r="1.4"/>
<circle cx="63.6" cy="132.5" r="1.4"/>
<circle cx="51.3" cy="110.5" r="1.4"/>
<circle cx="85.3" cy="201.6" r="1.4"/>
<circle cx="81.0" cy="191.1" r="1.4"/>
<circle cx="47.0" cy="100.7" r="1.4"/>
<circle cx="56.3" cy="109.6" r="1.4"/>
<circle cx="68.3" cy="154.0" r="1.4"/>
<circle cx="73.3" cy="160.5" r="1.4"/>
<circle cx="83.1" cy="190.4" r="1.4"/>
<circle cx="47.8" cy="103.2" r="1.4"/>
<circle cx="70.0" cy="157.1" r="1.4"/>
<circle cx="55.6" cy="119.7" r="1.4"/>
<circle cx="84.5" cy="189.9" r="1.4"/>
<circle cx="73.5" cy="151.9" r="1.4"/>
<circle cx="76.5" cy="176.5" r="1.4"/>
<circle cx="78.0" cy="179.1" r="1.4"/>
<circle cx="71.6" cy="154.6" r="1.4"/>
<circle cx="49.1" cy="97.8" r="1.4"/>
<circle cx="66.2" cy="150.5" r="1.4"/>
<circle cx="52.1" cy="101.4" r="1.4"/>
<circle cx="63.5" cy="129.2" r="1.4"/>
<circle cx="47.8" cy="103.2" r="1.4"/>
<circle cx="77.1" cy="164.1" r="1.4"/>
<circle cx="56.4" cy="112.8" r="1.4"/>
<circle cx="60.4" cy="136.3" r="1.4"/>
<circle cx="75.3" cy="155.6" r="1.4"/>
<circle cx="60.4" cy="129.3" r="1.4"/>
<circle cx="81.8" cy="193.0" r="1.4"/>
<circle cx="61.3" cy="136.5" r="1.4"/>
<circle cx="75.4" cy="155.1" r="1.4"/>
<circle cx="83.3" cy="194.5" r="1.4"/>
<circle cx="70.8" cy="147.8" r="1.4"/>
<circle cx="74.0" cy="170.2" r="1.4"/>
<circle cx="80.7" cy="174.7" r="1.4"/>
<circle cx="66.7" cy="134.8" r="1.4"/>
<circle cx="58.3" cy="126.0" r="1.4"/>
<circle cx="63.1" cy="138.5" r="1.4"/>
<circle cx="61.6" cy="120.5" r="1.4"/>
<circle cx="81.8" cy="178.9" r="1.4"/>
<circle cx="62.7" cy="122.9" r="1.4"/>
<circle cx="85.8" cy="204.3" r="1.4"/>
<circle cx="69.2" cy="142.4" r="1.4"/>
<circle cx="73.7" cy="165.1" r="1.4"/>
<circle cx="67.6" cy="137.4" r="1.4"/>
<circle cx="85.5" cy="194.4" r="1.4"/>
<circle cx="48.4" cy="94.9" r="1.4"/>
<circle cx="68.8" cy="153.2" r="1.4"/>
<circle cx="61.4" cy="136.7" r="1.4"/>
<circle cx="59.4" cy="134.8" r="1.4"/>
<circle cx="54.4" cy="120.5" r="1.4"/>
<circle cx="82.4" cy="194.0" r="1.4"/>
<circle cx="69.7" cy="145.5" r="1.4"/>
<circle cx="63.3" cy="132.3" r="1.4"/>
<circle cx="74.5" cy="155.3" r="1.4"/>
<circle cx="66.1" cy="132.5" r="1.4"/>
<circle cx="50.3" cy="103.1" r="1.4"/>
<circle cx="73.7" cy="162.2" r="1.4"/>
<circle cx="63.5" cy="139.8" r="1.4"/>
<circle cx="80.2" cy="187.5" r="1.4"/>
<circle cx="46.4" cy="93.0" r="1.4"/>
<circle cx="82.6" cy="190.6" r="1.4"/>
<circle cx="76.7" cy="162.9" r="1.4"/>
<circle cx="62.1" cy="139.0" r="1.4"/>
<circle cx="85.2" cy="202.6" r="1.4"/>
<circle cx="85.6" cy="189.5" r="1.4"/>
<circle cx="60.0" cy="131.2" r="1.4"/>
<circle cx="55.4" cy="114.7" r="1.4"/>
<circle cx="79.0" cy="183.6" r="1.4"/>
<circle cx="58.6" cy="114.2" r="1.4"/>
<circle cx="76.3" cy="159.8" r="1.4"/>
<circle cx="73.7" cy="168.1" r="1.4"/>
<circle cx="86.4" cy="202.9" r="1.4"/>
<circle cx="57.3" cy="125.1" r="1.4"/>
<circle cx="73.3" cy="161.4" r="1.4"/>
<circle cx="44.2" cy="88.8" r="1.4"/>
<circle cx="82.9" cy="195.0" r="1.4"/>
<circle cx="71.8" cy="161.9" r="1.4"/>
<circle cx="84.8" cy="191.1" r="1.4"/>
<circle cx="81.4" cy="189.6" r="1.4"/>
<circle cx="66.5" cy="151.3" r="1.4"/>
<circle cx="71.5" cy="153.8" r="1.4"/>
<circle cx="66.2" cy="136.1" r="1.4"/>
<circle cx="53.3" cy="116.4" r="1.4"/>
<circle cx="77.3" cy="176.4" r="1.4"/>
<circle cx="54.0" cy="119.2" r="1.4"/>
<circle cx="62.3" cy="133.2" r="1.4"/>
<circle cx="71.0" cy="156.6" r="1.4"/>
<circle cx="75.9" cy="157.5" r="1.4"/>
<circle cx="56.5" cy="116.3" r="1.4"/>
<circle cx="51.2" cy="112.2" r="1.4"/>
<circle cx="67.0" cy="148.8" r="1.4"/>
<circle cx="63.6" cy="144.0" r="1.4"/>
<circle cx="73.9" cy="169.9" r="1.4"/>
<circle cx="82.6" cy="192.2" r="1.4"/>
<circle cx="61.8" cy="130.6" r="1.4"/>
<circle cx="68.6" cy="140.3" r="1.4"/>
<circle cx="78.3" cy="172.4" r="1.4"/>
<circle cx="52.1" cy="114.1" r="1.4"/>
<circle cx="84.4" cy="202.5" r="1.4"/>
<circle cx="71.5" cy="156.6" r="1.4"/>
<circle cx="62.1" cy="135.6" r="1.4"/>
<circle cx="84.7" cy="200.4" r="1.4"/>
<circle cx="64.8" cy="143.4" r="1.4"/>
<circle cx="73.4" cy="165.1" r="1.4"/>
<circle cx="85.7" cy="205.5" r="1.4"/>
<circle cx="44.6" cy="91.1" r="1.4"/>
<circle cx="85.0" cy="203.2" r="1.4"/>
<circle cx="46.3" cy="96.2" r="1.4"/>
<circle cx="86.0" cy="191.0" r="1.4"/>
<circle cx="78.7" cy="166.8" r="1.4"/>
<circle cx="51.4" cy="101.3" r="1.4"/>
<circle cx="81.0" cy="173.4" r="1.4"/>
<circle cx="45.9" cy="96.0" r="1.4"/>
<circle cx="83.4" cy="189.3" r="1.4"/>
<circle cx="51.3" cy="111.2" r="1.4"/>
<circle cx="83.9" cy="184.2" r="1.4"/>
<circle cx="56.7" cy="124.2" r="1.4"/>
<circle cx="52.2" cy="113.7" r="1.4"/>
<circle cx="81.7" cy="193.4" r="1.4"/>
<circle cx="79.2" cy="185.3" r="1.4"/>
<circle cx="71.0" cy="144.6" r="1.4"/>
<circle cx="53.3" cy="113.0" r="1.4"/>
<circle cx="45.3" cy="88.7" r="1.4"/>
<circle cx="71.0" cy="161.6" r="1.4"/>
<circle cx="69.0" cy="147.2" r="1.4"/>
<circle cx="82.9" cy="192.2" r="1.4"/>
<circle cx="61.1" cy="133.2" r="1.4"/>
<circle cx="65.1" cy="133.5" r="1.4"/>
<circle cx="76.3" cy="175.4" r="1.4"/>
<circle cx="70.5" cy="157.9" r="1.4"/>
<circle cx="51.1" cy="99.9" r="1.4"/>
<circle cx="54.6" cy="109.3" r="1.4"/>
<circle cx="48.4" cy="102.7" r="1.4"/>
<circle cx="61.3" cy="124.7" r="1.4"/>
<circle cx="49.3" cy="102.0" r="1.4"/>
<circle cx="58.1" cy="118.7" r="1.4"/>
<circle cx="69.6" cy="141.0" r="1.4"/>
<circle cx="68.6" cy="155.6" r="1.4"/>
<circle cx="53.6" cy="108.7" r="1.4"/>
<circle cx="52.3" cy="106.8" r="1.4"/>
<circle cx="61.8" cy="123.6" r="1.4"/>
<circle cx="68.8" cy="156.3" r="1.4"/>
<circle cx="72.7" cy="155.1" r="1.4"/>
<circle cx="68.6" cy="137.1" r="1.4"/>
<circle cx="54.2" cy="107.5" r="1.4"/>
<circle cx="54.9" cy="114.6" r="1.4"/>
<circle cx="57.2" cy="111.4" r="1.4"/>
<circle cx="84.6" cy="200.4" r="1.4"/>
<circle cx="61.2" cy="119.6" r="1.4"/>
<circle cx="77.4" cy="164.2" r="1.4"/>
<circle cx="52.1" cy="102.1" r="1.4"/>
<circle cx="82.8" cy="185.5" r="1.4"/>
<circle cx="73.4" cy="154.3" r="1.4"/>
<circle cx="74.8" cy="167.2" r="1.4"/>
<circle cx="51.5" cy="107.6" r="1.4"/>
<circle cx="58.5" cy="126.3" r="1.4"/>
<circle cx="85.7" cy="196.9" r="1.4"/>
<circle cx="58.7" cy="132.9" r="1.4"/>
<circle cx="49.6" cy="105.7" r="1.4"/>
<circle cx="79.4" cy="168.5" r="1.4"/>
<circle cx="69.6" cy="139.8" r="1.4"/>
<circle cx="77.9" cy="165.7" r="1.4"/>
<circle cx="65.6" cy="139.5" r="1.4"/>
<circle cx="46.0" cy="97.2" r="1.4"/>
<circle cx="56.3" cy="117.4" r="1.4"/>
<circle cx="80.6" cy="190.0" r="1.4"/>
<circle cx="72.9" cy="149.0" r="1.4"/>
<circle cx="73.7" cy="169.3" r="1.4"/>
<circle cx="36.8" cy="85.6" r="1.4"/>
<circle cx="37.8" cy="85.5" r="1.4"/>
<circle cx="38.7" cy="85.6" r="1.4"/>
<circle cx="39.6" cy="85.1" r="1.4"/>
<circle cx="40.6" cy="85.2" r="1.4"/>
<circle cx="41.5" cy="85.2" r="1.4"/>
<circle cx="42.5" cy="85.6" r="1.4"/>
<circle cx="43.4" cy="85.2" r="1.4"/>
<circle cx="55.2" cy="100.7" r="1.4"/>
<circle cx="44.5" cy="90.0" r="1.4"/>
<circle cx="46.0" cy="93.0" r="1.4"/>
<circle cx="47.5" cy="96.0" r="1.4"/>
<circle cx="71.5" cy="136.5" r="1.4"/>
<circle cx="82.5" cy="192.0" r="1.4"/>
</g>
<g fill="#ff0000">
<circle cx="213.7" cy="161.7" r="1.4"/>
<circle cx="217.7" cy="146.1" r="1.4"/>
<circle cx="204.7" cy="194.2" r="1.4"/>
<circle cx="220.1" cy="140.4" r="1.4"/>
<circle cx="208.5" cy="181.1" r="1.4"/>
<circle cx="211.1" cy="166.7" r="1.4"/>
<circle cx="229.0" cy="125.0" r="1.4"/>
<circle cx="231.6" cy="110.1" r="1.4"/>
<circle cx="231.5" cy="111.6" r="1.4"/>
<circle cx="210.5" cy="168.0" r="1.4"/>
<circle cx="240.9" cy="91.1" r="1.4"/>
<circle cx="224.3" cy="122.4" r="1.4"/>
<circle cx="201.3" cy="205.2" r="1.4"/>
<circle cx="215.8" cy="156.3" r="1.4"/>
<circle cx="204.3" cy="196.9" r="1.4"/>
<circle cx="239.0" cy="98.8" r="1.4"/>
<circle cx="235.4" cy="101.5" r="1.4"/>
<circle cx="223.9" cy="132.5" r="1.4"/>
<circle cx="229.4" cy="123.5" r="1.4"/>
<circle cx="218.8" cy="134.7" r="1.4"/>
<circle cx="220.7" cy="149.5" r="1.4"/>
<circle cx="231.5" cy="106.3" r="1.4"/>
<circle cx="230.8" cy="111.1" r="1.4"/>
<circle cx="214.2" cy="160.5" r="1.4"/>
<circle cx="201.4" cy="193.7" r="1.4"/>
<circle cx="229.6" cy="112.7" r="1.4"/>
<circle cx="208.6" cy="182.2" r="1.4"/>
<circle cx="241.1" cy="89.5" r="1.4"/>
<circle cx="231.9" cy="117.0" r="1.4"/>
<circle cx="207.6" cy="183.6" r="1.4"/>
<circle cx="205.7" cy="186.1" r="1.4"/>
<circle cx="237.2" cy="98.9" r="1.4"/>
<circle cx="216.3" cy="157.9" r="1.4"/>
<circle cx="211.3" cy="158.9" r="1.4"/>
<circle cx="232.9" cy="108.9" r="1.4"/>
<circle cx="203.7" cy="185.7" r="1.4"/>
<circle cx="203.3" cy="201.9" r="1.4"/>
<circle cx="237.9" cy="96.6" r="1.4"/>
<circle cx="220.4" cy="138.1" r="1.4"/>
<circle cx="205.9" cy="189.4" r="1.4"/>
<circle cx="220.7" cy="150.7" r="1.4"/>
<circle cx="200.6" cy="191.4" r="1.4"/>
<circle cx="228.6" cy="110.9" r="1.4"/>
<circle cx="235.3" cy="105.2" r="1.4"/>
<circle cx="241.3" cy="89.5" r="1.4"/>
<circle cx="205.3" cy="171.9" r="1.4"/>
<circle cx="212.4" cy="162.1" r="1.4"/>
<circle cx="221.2" cy="141.7" r="1.4"/>
<circle cx="229.4" cy="120.4" r="1.4"/>
<circle cx="213.9" cy="160.0" r="1.4"/>
<circle cx="229.6" cy="115.1" r="1.4"/>
<circle cx="200.4" cy="197.6" r="1.4"/>
<circle cx="214.0" cy="162.0" r="1.4"/>
<circle cx="213.7" cy="161.0" r="1.4"/>
<circle cx="217.7" cy="145.7" r="1.4"/>
<circle cx="212.7" cy="157.0" r="1.4"/>
<circle cx="217.8" cy="152.7" r="1.4"/>
<circle cx="219.2" cy="139.7" r="1.4"/>
<circle cx="230.5" cy="118.2" r="1.4"/>
<circle cx="205.1" cy="181.3" r="1.4"/>
<circle cx="206.6" cy="186.8" r="1.4"/>
<circle cx="225.3" cy="139.8" r="1.4"/>
<circle cx="210.7" cy="163.0" r="1.4"/>
<circle cx="202.5" cy="202.4" r="1.4"/>
<circle cx="232.9" cy="104.3" r="1.4"/>
<circle cx="215.3" cy="157.8" r="1.4"/>
<circle cx="212.6" cy="157.7" r="1.4"/>
<circle cx="220.2" cy="148.4" r="1.4"/>
<circle cx="232.4" cy="114.9" r="1.4"/>
<circle cx="226.8" cy="116.1" r="1.4"/>
<circle cx="231.3" cy="105.8" r="1.4"/>
<circle cx="219.2" cy="145.0" r="1.4"/>
<circle cx="240.1" cy="91.9" r="1.4"/>
<circle cx="240.5" cy="90.6" r="1.4"/>
<circle cx="221.2" cy="135.9" r="1.4"/>
<circle cx="232.7" cy="115.6" r="1.4"/>
<circle cx="209.3" cy="175.1" r="1.4"/>
<circle cx="208.5" cy="171.6" r="1.4"/>
<circle cx="239.7" cy="94.1" r="1.4"/>
<circle cx="208.3" cy="173.9" r="1.4"/>
<circle cx="229.6" cy="119.0" r="1.4"/>
<circle cx="217.3" cy="140.2" r="1.4"/>
<circle cx="225.8" cy="123.3" r="1.4"/>
<circle cx="238.0" cy="94.4" r="1.4"/>
<circle cx="222.7" cy="127.0" r="1.4"/>
<circle cx="226.1" cy="121.1" r="1.4"/>
<circle cx="203.4" cy="201.8" r="1.4"/>
<circle cx="203.3" cy="195.1" r="1.4"/>
<circle cx="236.4" cy="101.8" r="1.4"/>
<circle cx="241.3" cy="89.3" r="1.4"/>
<circle cx="222.2" cy="141.0" r="1.4"/>
<circle cx="222.7" cy="129.8" r="1.4"/>
<circle cx="214.9" cy="158.6" r="1.4"/>
<circle cx="224.3" cy="118.5" r="1.4"/>
<circle cx="221.7" cy="136.3" r="1.4"/>
<circle cx="228.2" cy="129.0" r="1.4"/>
<circle cx="224.6" cy="141.1" r="1.4"/>
<circle cx="212.5" cy="164.0" r="1.4"/>
<circle cx="230.1" cy="111.8" r="1.4"/>
<circle cx="217.8" cy="151.9" r="1.4"/>
<circle cx="201.6" cy="200.4" r="1.4"/>
<circle cx="218.8" cy="141.9" r="1.4"/>
<circle cx="222.6" cy="120.0" r="1.4"/>
<circle cx="205.7" cy="184.3" r="1.4"/>
<circle cx="231.5" cy="116.9" r="1.4"/>
<circle cx="206.6" cy="186.8" r="1.4"/>
<circle cx="232.3" cy="108.2" r="1.4"/>
<circle cx="214.1" cy="160.8" r="1.4"/>
<circle cx="233.4" cy="107.9" r="1.4"/>
<circle cx="234.5" cy="108.0" r="1.4"/>
<circle cx="209.8" cy="166.0" r="1.4"/>
<circle cx="211.1" cy="169.6" r="1.4"/>
<circle cx="222.2" cy="140.3" r="1.4"/>
<circle cx="210.4" cy="175.3" r="1.4"/>
<circle cx="200.4" cy="208.3" r="1.4"/>
<circle cx="214.6" cy="162.4" r="1.4"/>
<circle cx="214.2" cy="151.0" r="1.4"/>
<circle cx="208.7" cy="164.1" r="1.4"/>
<circle cx="226.1" cy="136.5" r="1.4"/>
<circle cx="209.7" cy="177.0" r="1.4"/>
<circle cx="226.6" cy="130.3" r="1.4"/>
<circle cx="214.6" cy="151.1" r="1.4"/>
<circle cx="230.4" cy="121.1" r="1.4"/>
<circle cx="209.5" cy="166.9" r="1.4"/>
<circle cx="231.1" cy="109.2" r="1.4"/>
<circle cx="201.9" cy="199.8" r="1.4"/>
<circle cx="200.8" cy="206.2" r="1.4"/>
<circle cx="222.6" cy="144.8" r="1.4"/>
<circle cx="216.0" cy="159.7" r="1.4"/>
<circle cx="199.7" cy="194.1" r="1.4"/>
<circle cx="229.5" cy="118.6" r="1.4"/>
<circle cx="207.0" cy="181.8" r="1.4"/>
<circle cx="228.3" cy="110.7" r="1.4"/>
<circle cx="210.8" cy="160.5" r="1.4"/>
<circle cx="205.0" cy="190.9" r="1.4"/>
<circle cx="237.1" cy="102.3" r="1.4"/>
<circle cx="215.6" cy="157.0" r="1.4"/>
<circle cx="226.3" cy="119.7" r="1.4"/>
<circle cx="222.7" cy="124.8" r="1.4"/>
<circle cx="207.5" cy="173.8" r="1.4"/>
<circle cx="203.5" cy="198.6" r="1.4"/>
<circle cx="199.9" cy="199.9" r="1.4"/>
<circle cx="216.0" cy="150.6" r="1.4"/>
<circle cx="232.4" cy="115.7" r="1.4"/>
<circle cx="215.0" cy="160.8" r="1.4"/>
<circle cx="229.3" cy="114.8" r="1.4"/>
<circle cx="214.9" cy="156.0" r="1.4"/>
<circle cx="208.2" cy="160.0" r="1.4"/>
<circle cx="232.0" cy="117.1" r="1.4"/>
<circle cx="209.3" cy="169.4" r="1.4"/>
<circle cx="203.3" cy="199.1" r="1.4"/>
<circle cx="226.6" cy="121.2" r="1.4"/>
<circle cx="221.6" cy="141.4" r="1.4"/>
<circle cx="205.4" cy="179.7" r="1.4"/>
<circle cx="208.7" cy="166.6" r="1.4"/>
<circle cx="229.6" cy="124.0" r="1.4"/>
<circle cx="236.5" cy="101.2" r="1.4"/>
<circle cx="224.7" cy="131.3" r="1.4"/>
<circle cx="230.9" cy="120.5" r="1.4"/>
<circle cx="233.7" cy="104.2" r="1.4"/>
<circle cx="203.4" cy="195.7" r="1.4"/>
<circle cx="222.2" cy="144.3" r="1.4"/>
<circle cx="215.0" cy="150.6" r="1.4"/>
<circle cx="217.3" cy="156.1" r="1.4"/>
<circle cx="210.2" cy="167.9" r="1.4"/>
<circle cx="226.1" cy="123.6" r="1.4"/>
<circle cx="237.6" cy="100.3" r="1.4"/>
<circle cx="204.6" cy="178.1" r="1.4"/>
<circle cx="234.7" cy="107.5" r="1.4"/>
<circle cx="205.7" cy="191.7" r="1.4"/>
<circle cx="205.2" cy="181.6" r="1.4"/>
<circle cx="218.7" cy="151.3" r="1.4"/>
<circle cx="225.8" cy="136.5" r="1.4"/>
<circle cx="221.8" cy="129.5" r="1.4"/>
<circle cx="208.4" cy="166.0" r="1.4"/>
<circle cx="206.3" cy="192.1" r="1.4"/>
<circle cx="238.9" cy="92.5" r="1.4"/>
<circle cx="231.1" cy="114.3" r="1.4"/>
<circle cx="221.9" cy="147.5" r="1.4"/>
<circle cx="219.1" cy="131.3" r="1.4"/>
<circle cx="219.8" cy="150.4" r="1.4"/>
<circle cx="222.0" cy="134.4" r="1.4"/>
<circle cx="217.7" cy="144.4" r="1.4"/>
<circle cx="237.1" cy="104.4" r="1.4"/>
<circle cx="204.1" cy="196.6" r="1.4"/>
<circle cx="212.8" cy="162.2" r="1.4"/>
<circle cx="222.2" cy="147.7" r="1.4"/>
<circle cx="207.0" cy="189.2" r="1.4"/>
<circle cx="236.1" cy="104.4" r="1.4"/>
<circle cx="240.2" cy="91.7" r="1.4"/>
<circle cx="218.1" cy="155.7" r="1.4"/>
<circle cx="230.7" cy="120.4" r="1.4"/>
<circle cx="229.1" cy="116.4" r="1.4"/>
<circle cx="200.1" cy="204.8" r="1.4"/>
<circle cx="223.2" cy="123.0" r="1.4"/>
<circle cx="205.8" cy="193.6" r="1.4"/>
<circle cx="218.5" cy="146.6" r="1.4"/>
<circle cx="237.5" cy="103.2" r="1.4"/>
<circle cx="207.4" cy="171.9" r="1.4"/>
<circle cx="215.7" cy="159.1" r="1.4"/>
<circle cx="224.3" cy="128.7" r="1.4"/>
<circle cx="224.0" cy="127.7" r="1.4"/>
<circle cx="200.7" cy="202.0" r="1.4"/>
<circle cx="234.5" cy="105.2" r="1.4"/>
<circle cx="205.0" cy="190.5" r="1.4"/>
<circle cx="222.8" cy="125.3" r="1.4"/>
<circle cx="223.3" cy="117.8" r="1.4"/>
<circle cx="199.6" cy="203.2" r="1.4"/>
<circle cx="209.7" cy="175.9" r="1.4"/>
<circle cx="206.8" cy="189.6" r="1.4"/>
<circle cx="235.4" cy="103.7" r="1.4"/>
<circle cx="207.8" cy="185.9" r="1.4"/>
<circle cx="219.2" cy="141.8" r="1.4"/>
<circle cx="207.3" cy="180.7" r="1.4"/>
<circle cx="214.4" cy="161.7" r="1.4"/>
<circle cx="212.7" cy="154.6" r="1.4"/>
<circle cx="201.4" cy="193.7" r="1.4"/>
<circle cx="201.6" cy="200.0" r="1.4"/>
<circle cx="218.3" cy="141.0" r="1.4"/>
<circle cx="231.3" cy="110.9" r="1.4"/>
<circle cx="226.0" cy="136.5" r="1.4"/>
<circle cx="206.0" cy="190.1" r="1.4"/>
<circle cx="219.4" cy="135.4" r="1.4"/>
<circle cx="225.6" cy="126.7" r="1.4"/>
<circle cx="224.6" cy="142.6" r="1.4"/>
<circle cx="224.8" cy="141.9" r="1.4"/>
<circle cx="229.4" cy="121.2" r="1.4"/>
<circle cx="234.2" cy="103.0" r="1.4"/>
<circle cx="214.9" cy="160.1" r="1.4"/>
<circle cx="239.1" cy="92.0" r="1.4"/>
<circle cx="204.6" cy="187.1" r="1.4"/>
<circle cx="231.6" cy="110.8" r="1.4"/>
<circle cx="222.6" cy="145.3" r="1.4"/>
<circle cx="207.5" cy="169.8" r="1.4"/>
<circle cx="205.3" cy="173.5" r="1.4"/>
<circle cx="210.7" cy="168.9" r="1.4"/>
<circle cx="224.6" cy="141.3" r="1.4"/>
<circle cx="200.8" cy="188.6" r="1.4"/>
<circle cx="202.5" cy="182.4" r="1.4"/>
<circle cx="217.4" cy="151.8" r="1.4"/>
<circle cx="226.7" cy="133.8" r="1.4"/>
<circle cx="202.1" cy="203.1" r="1.4"/>
<circle cx="215.2" cy="158.5" r="1.4"/>
<circle cx="209.2" cy="178.1" r="1.4"/>
<circle cx="233.3" cy="113.6" r="1.4"/>
<circle cx="240.0" cy="91.5" r="1.4"/>
<circle cx="201.1" cy="198.9" r="1.4"/>
<circle cx="224.3" cy="132.0" r="1.4"/>
<circle cx="206.8" cy="180.0" r="1.4"/>
<circle cx="204.3" cy="174.6" r="1.4"/>
<circle cx="226.4" cy="136.3" r="1.4"/>
<circle cx="238.5" cy="96.8" r="1.4"/>
<circle cx="200.8" cy="187.4" r="1.4"/>
<circle cx="207.5" cy="171.6" r="1.4"/>
<circle cx="224.7" cy="125.9" r="1.4"/>
<circle cx="211.6" cy="165.5" r="1.4"/>
<circle cx="222.8" cy="146.0" r="1.4"/>
<circle cx="199.8" cy="201.9" r="1.4"/>
<circle cx="205.7" cy="173.5" r="1.4"/>
<circle cx="205.4" cy="195.9" r="1.4"/>
<circle cx="207.5" cy="182.8" r="1.4"/>
<circle cx="210.1" cy="170.4" r="1.4"/>
<circle cx="201.5" cy="196.3" r="1.4"/>
<circle cx="207.6" cy="165.6" r="1.4"/>
<circle cx="239.6" cy="93.1" r="1.4"/>
<circle cx="199.5" cy="191.5" r="1.4"/>
<circle cx="213.9" cy="156.4" r="1.4"/>
<circle cx="199.9" cy="188.4" r="1.4"/>
<circle cx="238.9" cy="93.4" r="1.4"/>
<circle cx="228.0" cy="122.6" r="1.4"/>
<circle cx="204.4" cy="188.4" r="1.4"/>
<circle cx="222.5" cy="134.9" r="1.4"/>
<circle cx="213.3" cy="161.8" r="1.4"/>
<circle cx="202.8" cy="202.3" r="1.4"/>
<circle cx="210.2" cy="158.5" r="1.4"/>
<circle cx="234.1" cy="111.0" r="1.4"/>
<circle cx="204.1" cy="187.8" r="1.4"/>
<circle cx="200.6" cy="202.0" r="1.4"/>
<circle cx="239.6" cy="89.1" r="1.4"/>
<circle cx="234.0" cy="102.8" r="1.4"/>
<circle cx="204.6" cy="178.4" r="1.4"/>
<circle cx="219.6" cy="135.2" r="1.4"/>
<circle cx="221.9" cy="133.2" r="1.4"/>
<circle cx="225.9" cy="124.5" r="1.4"/>
<circle cx="203.5" cy="187.3" r="1.4"/>
<circle cx="236.8" cy="102.8" r="1.4"/>
<circle cx="212.8" cy="154.8" r="1.4"/>
<circle cx="236.0" cy="104.0" r="1.4"/>
<circle cx="234.0" cy="111.8" r="1.4"/>
<circle cx="235.1" cy="101.9" r="1.4"/>
<circle cx="224.9" cy="123.8" r="1.4"/>
<circle cx="219.9" cy="146.7" r="1.4"/>
<circle cx="224.9" cy="137.0" r="1.4"/>
<circle cx="201.8" cy="189.7" r="1.4"/>
<circle cx="207.1" cy="187.6" r="1.4"/>
<circle cx="226.6" cy="130.3" r="1.4"/>
<circle cx="229.4" cy="119.2" r="1.4"/>
<circle cx="216.3" cy="142.6" r="1.4"/>
<circle cx="216.2" cy="152.4" r="1.4"/>
<circle cx="228.2" cy="125.2" r="1.4"/>
<circle cx="211.3" cy="159.8" r="1.4"/>
<circle cx="212.8" cy="150.0" r="1.4"/>
<circle cx="217.2" cy="142.9" r="1.4"/>
<circle cx="224.3" cy="142.0" r="1.4"/>
<circle cx="223.9" cy="132.4" r="1.4"/>
<circle cx="217.3" cy="151.9" r="1.4"/>
<circle cx="204.0" cy="179.3" r="1.4"/>
<circle cx="200.6" cy="204.5" r="1.4"/>
<circle cx="225.4" cy="119.1" r="1.4"/>
<circle cx="221.8" cy="147.0" r="1.4"/>
<circle cx="206.2" cy="192.1" r="1.4"/>
<circle cx="228.7" cy="120.2" r="1.4"/>
<circle cx="206.5" cy="170.3" r="1.4"/>
<circle cx="208.1" cy="178.3" r="1.4"/>
<circle cx="237.4" cy="98.7" r="1.4"/>
<circle cx="212.1" cy="152.1" r="1.4"/>
<circle cx="223.1" cy="138.5" r="1.4"/>
<circle cx="220.4" cy="149.0" r="1.4"/>
<circle cx="214.4" cy="158.6" r="1.4"/>
<circle cx="211.5" cy="168.4" r="1.4"/>
<circle cx="232.7" cy="111.4" r="1.4"/>
<circle cx="217.0" cy="151.3" r="1.4"/>
<circle cx="240.0" cy="95.0" r="1.4"/>
<circle cx="206.0" cy="186.2" r="1.4"/>
<circle cx="201.1" cy="204.6" r="1.4"/>
<circle cx="209.2" cy="167.0" r="1.4"/>
<circle cx="238.8" cy="95.2" r="1.4"/>
<circle cx="202.4" cy="192.9" r="1.4"/>
<circle cx="219.1" cy="151.8" r="1.4"/>
<circle cx="227.2" cy="114.6" r="1.4"/>
<circle cx="205.3" cy="189.9" r="1.4"/>
<circle cx="207.5" cy="173.0" r="1.4"/>
<circle cx="211.6" cy="168.2" r="1.4"/>
<circle cx="205.6" cy="183.8" r="1.4"/>
<circle cx="236.4" cy="103.1" r="1.4"/>
<circle cx="201.3" cy="207.9" r="1.4"/>
<circle cx="226.6" cy="131.5" r="1.4"/>
<circle cx="222.1" cy="131.1" r="1.4"/>
<circle cx="201.9" cy="196.2" r="1.4"/>
<circle cx="239.1" cy="90.4" r="1.4"/>
<circle cx="211.3" cy="165.9" r="1.4"/>
<circle cx="226.2" cy="133.4" r="1.4"/>
<circle cx="208.6" cy="166.6" r="1.4"/>
<circle cx="238.2" cy="94.2" r="1.4"/>
<circle cx="218.2" cy="155.5" r="1.4"/>
<circle cx="203.9" cy="182.9" r="1.4"/>
<circle cx="215.0" cy="151.5" r="1.4"/>
<circle cx="228.1" cy="118.0" r="1.4"/>
<circle cx="205.7" cy="191.8" r="1.4"/>
<circle cx="225.7" cy="137.4" r="1.4"/>
<circle cx="203.1" cy="191.9" r="1.4"/>
<circle cx="206.0" cy="192.2" r="1.4"/>
<circle cx="234.7" cy="109.8" r="1.4"/>
<circle cx="214.0" cy="161.6" r="1.4"/>
<circle cx="204.5" cy="187.1" r="1.4"/>
<circle cx="243.2" cy="86.1" r="1.4"/>
<circle cx="244.2" cy="86.0" r="1.4"/>
<circle cx="245.2" cy="86.2" r="1.4"/>
<circle cx="246.2" cy="86.4" r="1.4"/>
<circle cx="247.2" cy="85.9" r="1.4"/>
<circle cx="248.2" cy="86.4" r="1.4"/>
<circle cx="249.2" cy="86.1" r="1.4"/>
<circle cx="250.2" cy="85.9" r="1.4"/>
<circle cx="253.7" cy="81.1" r="1.4"/>
<circle cx="252.0" cy="83.0" r="1.4"/>
<circle cx="250.8" cy="84.6" r="1.4"/>
<circle cx="237.0" cy="89.0" r="1.4"/>
<circle cx="229.5" cy="107.0" r="1.4"/>
<circle cx="222.5" cy="123.5" r="1.4"/>
<circle cx="211.5" cy="149.0" r="1.4"/>
</g>
<g>
<rect x="327.90" y="54.70" width="10.36" height="15.70" fill="#00FF00"/>
<rect x="338.01" y="54.70" width="10.36" height="15.70" fill="#B870F8"/>
<rect x="348.13" y="54.70" width="10.36" height="15.70" fill="#BB74FA"/>
<rect x="358.24" y="54.70" width="10.36" height="15.70" fill="#B565F5"/>
<rect x="368.36" y="54.70" width="10.36" height="15.70" fill="#A010E0"/>
<rect x="378.47" y="54.70" width="10.36" height="15.70" fill="#8B3A4A"/>
<rect x="388.59" y="54.70" width="10.36" height="15.70" fill="#78E030"/>
<rect x="398.70" y="54.70" width="10.36" height="15.70" fill="#00F040"/>
<rect x="408.81" y="54.70" width="10.36" height="15.70" fill="#6A96C8"/>
<rect x="418.93" y="54.70" width="10.36" height="15.70" fill="#00F050"/>
<rect x="429.04" y="54.70" width="10.36" height="15.70" fill="#00D880"/>
<rect x="439.16" y="54.70" width="10.36" height="15.70" fill="#6A96B0"/>
<rect x="449.27" y="54.70" width="10.36" height="15.70" fill="#00F000"/>
<rect x="459.39" y="54.70" width="10.36" height="15.70" fill="#A0FF00"/>
<rect x="469.50" y="54.70" width="10.36" height="15.70" fill="#FFFF00"/>
<rect x="479.61" y="54.70" width="10.36" height="15.70" fill="#5818D0"/>
<rect x="489.73" y="54.70" width="10.36" height="15.70" fill="#A07800"/>
<rect x="499.84" y="54.70" width="10.36" height="15.70" fill="#9030D0"/>
<rect x="509.96" y="54.70" width="10.36" height="15.70" fill="#A8FFF0"/>
<rect x="520.07" y="54.70" width="10.36" height="15.70" fill="#00F000"/>
<rect x="530.19" y="54.70" width="10.11" height="15.70" fill="#F05048"/>
<rect x="327.90" y="70.15" width="10.36" height="15.70" fill="#235F8A"/>
<rect x="338.01" y="70.15" width="10.36" height="15.70" fill="#50E8B8"/>
<rect x="348.13" y="70.15" width="10.36" height="15.70" fill="#C8FFE8"/>
<rect x="358.24" y="70.15" width="10.36" height="15.70" fill="#00FFC0"/>
<rect x="368.36" y="70.15" width="10.36" height="15.70" fill="#70C088"/>
<rect x="378.47" y="70.15" width="10.36" height="15.70" fill="#D8ECFA"/>
<rect x="388.59" y="70.15" width="10.36" height="15.70" fill="#8040F0"/>
<rect x="398.70" y="70.15" width="10.36" height="15.70" fill="#00E090"/>
<rect x="408.81" y="70.15" width="10.36" height="15.70" fill="#D5EAFA"/>
<rect x="418.93" y="70.15" width="10.36" height="15.70" fill="#50E8C0"/>
<rect x="429.04" y="70.15" width="10.36" height="15.70" fill="#30FFC0"/>
<rect x="439.16" y="70.15" width="10.36" height="15.70" fill="#00F070"/>
<rect x="449.27" y="70.15" width="10.36" height="15.70" fill="#D0FFF0"/>
<rect x="459.39" y="70.15" width="10.36" height="15.70" fill="#F0FF10"/>
<rect x="469.50" y="70.15" width="10.36" height="15.70" fill="#5818D0"/>
<rect x="479.61" y="70.15" width="10.36" height="15.70" fill="#F02878"/>
<rect x="489.73" y="70.15" width="10.36" height="15.70" fill="#F0FF10"/>
<rect x="499.84" y="70.15" width="10.36" height="15.70" fill="#A09800"/>
<rect x="509.96" y="70.15" width="10.36" height="15.70" fill="#FFFF00"/>
<rect x="520.07" y="70.15" width="10.36" height="15.70" fill="#A05800"/>
<rect x="530.19" y="70.15" width="10.11" height="15.70" fill="#E0A0A8"/>
<rect x="327.90" y="85.59" width="10.36" height="15.70" fill="#0000E0"/>
<rect x="338.01" y="85.59" width="10.36" height="15.70" fill="#7840E0"/>
<rect x="348.13" y="85.59" width="10.36" height="15.70" fill="#00F0A0"/>
<rect x="358.24" y="85.59" width="10.36" height="15.70" fill="#40B8C8"/>
<rect x="368.36" y="85.59" width="10.36" height="15.70" fill="#0020A0"/>
<rect x="378.47" y="85.59" width="10.36" height="15.70" fill="#A010D8"/>
<rect x="388.59" y="85.59" width="10.36" height="15.70" fill="#00A8F0"/>
<rect x="398.70" y="85.59" width="10.36" height="15.70" fill="#40E8B0"/>
<rect x="408.81" y="85.59" width="10.36" height="15.70" fill="#40E8A8"/>
<rect x="418.93" y="85.59" width="10.36" height="15.70" fill="#580090"/>
<rect x="429.04" y="85.59" width="10.36" height="15.70" fill="#00D078"/>
<rect x="439.16" y="85.59" width="10.36" height="15.70" fill="#D83860"/>
<rect x="449.27" y="85.59" width="10.36" height="15.70" fill="#30FFD0"/>
<rect x="459.39" y="85.59" width="10.36" height="15.70" fill="#B8F000"/>
<rect x="469.50" y="85.59" width="10.36" height="15.70" fill="#A05000"/>
<rect x="479.61" y="85.59" width="10.36" height="15.70" fill="#FF8010"/>
<rect x="489.73" y="85.59" width="10.36" height="15.70" fill="#7840B0"/>
<rect x="499.84" y="85.59" width="10.36" height="15.70" fill="#FFFF00"/>
<rect x="509.96" y="85.59" width="10.36" height="15.70" fill="#FFD0B0"/>
<rect x="520.07" y="85.59" width="10.36" height="15.70" fill="#F000D0"/>
<rect x="530.19" y="85.59" width="10.11" height="15.70" fill="#58C088"/>
<rect x="327.90" y="101.04" width="10.36" height="15.70" fill="#20F070"/>
<rect x="338.01" y="101.04" width="10.36" height="15.70" fill="#9030F0"/>
<rect x="348.13" y="101.04" width="10.36" height="15.70" fill="#D020F0"/>
<rect x="358.24" y="101.04" width="10.36" height="15.70" fill="#00F000"/>
<rect x="368.36" y="101.04" width="10.36" height="15.70" fill="#00E0A0"/>
<rect x="378.47" y="101.04" width="10.36" height="15.70" fill="#B020E0"/>
<rect x="388.59" y="101.04" width="10.36" height="15.70" fill="#D0FFF0"/>
<rect x="398.70" y="101.04" width="10.36" height="15.70" fill="#C020A0"/>
<rect x="408.81" y="101.04" width="10.36" height="15.70" fill="#9030E8"/>
<rect x="418.93" y="101.04" width="10.36" height="15.70" fill="#6A8A9A"/>
<rect x="429.04" y="101.04" width="10.36" height="15.70" fill="#08E098"/>
<rect x="439.16" y="101.04" width="10.36" height="15.70" fill="#10E8A0"/>
<rect x="449.27" y="101.04" width="10.36" height="15.70" fill="#00D888"/>
<rect x="459.39" y="101.04" width="10.36" height="15.70" fill="#FFFF10"/>
<rect x="469.50" y="101.04" width="10.36" height="15.70" fill="#E09000"/>
<rect x="479.61" y="101.04" width="10.36" height="15.70" fill="#A8FFF0"/>
<rect x="489.73" y="101.04" width="10.36" height="15.70" fill="#D8FFD0"/>
<rect x="499.84" y="101.04" width="10.36" height="15.70" fill="#FFB020"/>
<rect x="509.96" y="101.04" width="10.36" height="15.70" fill="#A05000"/>
<rect x="520.07" y="101.04" width="10.36" height="15.70" fill="#F0FF20"/>
<rect x="530.19" y="101.04" width="10.11" height="15.70" fill="#F0C060"/>
<rect x="327.90" y="116.48" width="10.36" height="15.70" fill="#78E030"/>
<rect x="338.01" y="116.48" width="10.36" height="15.70" fill="#580088"/>
<rect x="348.13" y="116.48" width="10.36" height="15.70" fill="#884088"/>
<rect x="358.24" y="116.48" width="10.36" height="15.70" fill="#003088"/>
<rect x="368.36" y="116.48" width="10.36" height="15.70" fill="#00F040"/>
<rect x="378.47" y="116.48" width="10.36" height="15.70" fill="#F040C0"/>
<rect x="388.59" y="116.48" width="10.36" height="15.70" fill="#50FF90"/>
<rect x="398.70" y="116.48" width="10.36" height="15.70" fill="#B870F8"/>
<rect x="408.81" y="116.48" width="10.36" height="15.70" fill="#003088"/>
<rect x="418.93" y="116.48" width="10.36" height="15.70" fill="#50E800"/>
<rect x="429.04" y="116.48" width="10.36" height="15.70" fill="#40E0C8"/>
<rect x="439.16" y="116.48" width="10.36" height="15.70" fill="#C020FF"/>
<rect x="449.27" y="116.48" width="10.36" height="15.70" fill="#E0FFFF"/>
<rect x="459.39" y="116.48" width="10.36" height="15.70" fill="#FFD070"/>
<rect x="469.50" y="116.48" width="10.36" height="15.70" fill="#F0FF10"/>
<rect x="479.61" y="116.48" width="10.36" height="15.70" fill="#FFB000"/>
<rect x="489.73" y="116.48" width="10.36" height="15.70" fill="#00F050"/>
<rect x="499.84" y="116.48" width="10.36" height="15.70" fill="#FFFF10"/>
<rect x="509.96" y="116.48" width="10.36" height="15.70" fill="#D0A000"/>
<rect x="520.07" y="116.48" width="10.36" height="15.70" fill="#FFFF10"/>
<rect x="530.19" y="116.48" width="10.11" height="15.70" fill="#E0D800"/>
<rect x="327.90" y="131.93" width="10.36" height="15.70" fill="#8040F0"/>
<rect x="338.01" y="131.93" width="10.36" height="15.70" fill="#E04050"/>
<rect x="348.13" y="131.93" width="10.36" height="15.70" fill="#8040FF"/>
<rect x="358.24" y="131.93" width="10.36" height="15.70" fill="#808A60"/>
<rect x="368.36" y="131.93" width="10.36" height="15.70" fill="#00F000"/>
<rect x="378.47" y="131.93" width="10.36" height="15.70" fill="#00F060"/>
<rect x="388.59" y="131.93" width="10.36" height="15.70" fill="#0020A0"/>
<rect x="398.70" y="131.93" width="10.36" height="15.70" fill="#B020F0"/>
<rect x="408.81" y="131.93" width="10.36" height="15.70" fill="#7090C0"/>
<rect x="418.93" y="131.93" width="10.36" height="15.70" fill="#808A58"/>
<rect x="429.04" y="131.93" width="10.36" height="15.70" fill="#3CB8BC"/>
<rect x="439.16" y="131.93" width="10.36" height="15.70" fill="#40E8B0"/>
<rect x="449.27" y="131.93" width="10.36" height="15.70" fill="#580090"/>
<rect x="459.39" y="131.93" width="10.36" height="15.70" fill="#FF8820"/>
<rect x="469.50" y="131.93" width="10.36" height="15.70" fill="#7840B8"/>
<rect x="479.61" y="131.93" width="10.36" height="15.70" fill="#FFD0A0"/>
<rect x="489.73" y="131.93" width="10.36" height="15.70" fill="#E0A8A0"/>
<rect x="499.84" y="131.93" width="10.36" height="15.70" fill="#00F050"/>
<rect x="509.96" y="131.93" width="10.36" height="15.70" fill="#F06890"/>
<rect x="520.07" y="131.93" width="10.36" height="15.70" fill="#D000D0"/>
<rect x="530.19" y="131.93" width="10.11" height="15.70" fill="#A05000"/>
<rect x="327.90" y="147.37" width="10.36" height="15.70" fill="#00E870"/>
<rect x="338.01" y="147.37" width="10.36" height="15.70" fill="#FF50C0"/>
<rect x="348.13" y="147.37" width="10.36" height="15.70" fill="#7090A0"/>
<rect x="358.24" y="147.37" width="10.36" height="15.70" fill="#7090B8"/>
<rect x="368.36" y="147.37" width="10.36" height="15.70" fill="#B020F0"/>
<rect x="378.47" y="147.37" width="10.36" height="15.70" fill="#50E8C0"/>
<rect x="388.59" y="147.37" width="10.36" height="15.70" fill="#78E850"/>
<rect x="398.70" y="147.37" width="10.36" height="15.70" fill="#9000D0"/>
<rect x="408.81" y="147.37" width="10.36" height="15.70" fill="#5050D0"/>
<rect x="418.93" y="147.37" width="10.36" height="15.70" fill="#40FFD0"/>
<rect x="429.04" y="147.37" width="10.36" height="15.70" fill="#00E87C"/>
<rect x="439.16" y="147.37" width="10.36" height="15.70" fill="#882098"/>
<rect x="449.27" y="147.37" width="10.36" height="15.70" fill="#40E890"/>
<rect x="459.39" y="147.37" width="10.36" height="15.70" fill="#F0FF80"/>
<rect x="469.50" y="147.37" width="10.36" height="15.70" fill="#C8F860"/>
<rect x="479.61" y="147.37" width="10.36" height="15.70" fill="#E080FF"/>
<rect x="489.73" y="147.37" width="10.36" height="15.70" fill="#30FF00"/>
<rect x="499.84" y="147.37" width="10.36" height="15.70" fill="#E0D840"/>
<rect x="509.96" y="147.37" width="10.36" height="15.70" fill="#B0F800"/>
<rect x="520.07" y="147.37" width="10.36" height="15.70" fill="#908080"/>
<rect x="530.19" y="147.37" width="10.11" height="15.70" fill="#FFFF00"/>
<rect x="327.90" y="162.81" width="10.36" height="15.70" fill="#00E890"/>
<rect x="338.01" y="162.81" width="10.36" height="15.70" fill="#B04048"/>
<rect x="348.13" y="162.81" width="10.36" height="15.70" fill="#8800B8"/>
<rect x="358.24" y="162.81" width="10.36" height="15.70" fill="#906080"/>
<rect x="368.36" y="162.81" width="10.36" height="15.70" fill="#00F850"/>
<rect x="378.47" y="162.81" width="10.36" height="15.70" fill="#3098B0"/>
<rect x="388.59" y="162.81" width="10.36" height="15.70" fill="#808A50"/>
<rect x="398.70" y="162.81" width="10.36" height="15.70" fill="#B020F0"/>
<rect x="408.81" y="162.81" width="10.36" height="15.70" fill="#00E898"/>
<rect x="418.93" y="162.81" width="10.36" height="15.70" fill="#00D878"/>
<rect x="429.04" y="162.81" width="10.36" height="15.70" fill="#00D480"/>
<rect x="439.16" y="162.81" width="10.36" height="15.70" fill="#8800D8"/>
<rect x="449.27" y="162.81" width="10.36" height="15.70" fill="#00F8C0"/>
<rect x="459.39" y="162.81" width="10.36" height="15.70" fill="#88C820"/>
<rect x="469.50" y="162.81" width="10.36" height="15.70" fill="#FFD8B0"/>
<rect x="479.61" y="162.81" width="10.36" height="15.70" fill="#98E0B0"/>
<rect x="489.73" y="162.81" width="10.36" height="15.70" fill="#F03058"/>
<rect x="499.84" y="162.81" width="10.36" height="15.70" fill="#007830"/>
<rect x="509.96" y="162.81" width="10.36" height="15.70" fill="#FFFF00"/>
<rect x="520.07" y="162.81" width="10.36" height="15.70" fill="#A09850"/>
<rect x="530.19" y="162.81" width="10.11" height="15.70" fill="#E8F800"/>
<rect x="327.90" y="178.26" width="10.36" height="15.70" fill="#207890"/>
<rect x="338.01" y="178.26" width="10.36" height="15.70" fill="#70B060"/>
<rect x="348.13" y="178.26" width="10.36" height="15.70" fill="#808A70"/>
<rect x="358.24" y="178.26" width="10.36" height="15.70" fill="#7090B0"/>
<rect x="368.36" y="178.26" width="10.36" height="15.70" fill="#B030F8"/>
<rect x="378.47" y="178.26" width="10.36" height="15.70" fill="#00E860"/>
<rect x="388.59" y="178.26" width="10.36" height="15.70" fill="#60F000"/>
<rect x="398.70" y="178.26" width="10.36" height="15.70" fill="#9000D0"/>
<rect x="408.81" y="178.26" width="10.36" height="15.70" fill="#205880"/>
<rect x="418.93" y="178.26" width="10.36" height="15.70" fill="#00F850"/>
<rect x="429.04" y="178.26" width="10.36" height="15.70" fill="#00D880"/>
<rect x="439.16" y="178.26" width="10.36" height="15.70" fill="#7090A0"/>
<rect x="449.27" y="178.26" width="10.36" height="15.70" fill="#A0FFD8"/>
<rect x="459.39" y="178.26" width="10.36" height="15.70" fill="#30A0E8"/>
<rect x="469.50" y="178.26" width="10.36" height="15.70" fill="#00F8C8"/>
<rect x="479.61" y="178.26" width="10.36" height="15.70" fill="#E090B0"/>
<rect x="489.73" y="178.26" width="10.36" height="15.70" fill="#F09000"/>
<rect x="499.84" y="178.26" width="10.36" height="15.70" fill="#A8A8D0"/>
<rect x="509.96" y="178.26" width="10.36" height="15.70" fill="#B0F000"/>
<rect x="520.07" y="178.26" width="10.36" height="15.70" fill="#D8B000"/>
<rect x="530.19" y="178.26" width="10.11" height="15.70" fill="#F09800"/>
<rect x="327.90" y="193.71" width="10.36" height="15.70" fill="#B0FFD8"/>
<rect x="338.01" y="193.71" width="10.36" height="15.70" fill="#C020C0"/>
<rect x="348.13" y="193.71" width="10.36" height="15.70" fill="#50E8C0"/>
<rect x="358.24" y="193.71" width="10.36" height="15.70" fill="#70C088"/>
<rect x="368.36" y="193.71" width="10.36" height="15.70" fill="#40C0D0"/>
<rect x="378.47" y="193.71" width="10.36" height="15.70" fill="#00E098"/>
<rect x="388.59" y="193.71" width="10.36" height="15.70" fill="#C840FF"/>
<rect x="398.70" y="193.71" width="10.36" height="15.70" fill="#00A050"/>
<rect x="408.81" y="193.71" width="10.36" height="15.70" fill="#A000E0"/>
<rect x="418.93" y="193.71" width="10.36" height="15.70" fill="#D03088"/>
<rect x="429.04" y="193.71" width="10.36" height="15.70" fill="#40F090"/>
<rect x="439.16" y="193.71" width="10.36" height="15.70" fill="#40E8C0"/>
<rect x="449.27" y="193.71" width="10.36" height="15.70" fill="#B020E0"/>
<rect x="459.39" y="193.71" width="10.36" height="15.70" fill="#B8F000"/>
<rect x="469.50" y="193.71" width="10.36" height="15.70" fill="#00E898"/>
<rect x="479.61" y="193.71" width="10.36" height="15.70" fill="#880868"/>
<rect x="489.73" y="193.71" width="10.36" height="15.70" fill="#F000D0"/>
<rect x="499.84" y="193.71" width="10.36" height="15.70" fill="#E0D8FF"/>
<rect x="509.96" y="193.71" width="10.36" height="15.70" fill="#A09848"/>
<rect x="520.07" y="193.71" width="10.36" height="15.70" fill="#7020D8"/>
<rect x="530.19" y="193.71" width="10.11" height="15.70" fill="#9068A0"/>
<rect x="327.90" y="209.15" width="10.36" height="15.70" fill="#603050"/>
<rect x="338.01" y="209.15" width="10.36" height="15.70" fill="#FFD0D0"/>
<rect x="348.13" y="209.15" width="10.36" height="15.70" fill="#F8A8F8"/>
<rect x="358.24" y="209.15" width="10.36" height="15.70" fill="#6850C0"/>
<rect x="368.36" y="209.15" width="10.36" height="15.70" fill="#A0C010"/>
<rect x="378.47" y="209.15" width="10.36" height="15.70" fill="#F05088"/>
<rect x="388.59" y="209.15" width="10.36" height="15.70" fill="#B0F800"/>
<rect x="398.70" y="209.15" width="10.36" height="15.70" fill="#00F040"/>
<rect x="408.81" y="209.15" width="10.36" height="15.70" fill="#FFC8E0"/>
<rect x="418.93" y="209.15" width="10.36" height="15.70" fill="#B8E840"/>
<rect x="429.04" y="209.15" width="10.36" height="15.70" fill="#880060"/>
<rect x="439.16" y="209.15" width="10.36" height="15.70" fill="#F0F880"/>
<rect x="449.27" y="209.15" width="10.36" height="15.70" fill="#902080"/>
<rect x="459.39" y="209.15" width="10.36" height="15.70" fill="#7098C8"/>
<rect x="469.50" y="209.15" width="10.36" height="15.70" fill="#887858"/>
<rect x="479.61" y="209.15" width="10.36" height="15.70" fill="#30A0F0"/>
<rect x="489.73" y="209.15" width="10.36" height="15.70" fill="#A8F800"/>
<rect x="499.84" y="209.15" width="10.36" height="15.70" fill="#7890F0"/>
<rect x="509.96" y="209.15" width="10.36" height="15.70" fill="#A010E0"/>
<rect x="520.07" y="209.15" width="10.36" height="15.70" fill="#0000E0"/>
<rect x="530.19" y="209.15" width="10.11" height="15.70" fill="#30A0B0"/>
<rect x="327.90" y="224.60" width="10.36" height="15.70" fill="#B060F0"/>
<rect x="338.01" y="224.60" width="10.36" height="15.70" fill="#F0F850"/>
<rect x="348.13" y="224.60" width="10.36" height="15.70" fill="#E8FFB0"/>
<rect x="358.24" y="224.60" width="10.36" height="15.70" fill="#7840B0"/>
<rect x="368.36" y="224.60" width="10.36" height="15.70" fill="#A8A000"/>
<rect x="378.47" y="224.60" width="10.36" height="15.70" fill="#FFF800"/>
<rect x="388.59" y="224.60" width="10.36" height="15.70" fill="#FFFF00"/>
<rect x="398.70" y="224.60" width="10.36" height="15.70" fill="#8858F0"/>
<rect x="408.81" y="224.60" width="10.36" height="15.70" fill="#FFC0C0"/>
<rect x="418.93" y="224.60" width="10.36" height="15.70" fill="#E8FFC0"/>
<rect x="429.04" y="224.60" width="10.36" height="15.70" fill="#FF9000"/>
<rect x="439.16" y="224.60" width="10.36" height="15.70" fill="#FFFF00"/>
<rect x="449.27" y="224.60" width="10.36" height="15.70" fill="#6828C8"/>
<rect x="459.39" y="224.60" width="10.36" height="15.70" fill="#007068"/>
<rect x="469.50" y="224.60" width="10.36" height="15.70" fill="#2000D0"/>
<rect x="479.61" y="224.60" width="10.36" height="15.70" fill="#0020A0"/>
<rect x="489.73" y="224.60" width="10.36" height="15.70" fill="#C040FF"/>
<rect x="499.84" y="224.60" width="10.36" height="15.70" fill="#004880"/>
<rect x="509.96" y="224.60" width="10.36" height="15.70" fill="#D000D0"/>
<rect x="520.07" y="224.60" width="10.36" height="15.70" fill="#3000D8"/>
<rect x="530.19" y="224.60" width="10.11" height="15.70" fill="#00E8A0"/>
<rect x="327.90" y="240.04" width="10.36" height="15.70" fill="#40B070"/>
<rect x="338.01" y="240.04" width="10.36" height="15.70" fill="#FFD0C8"/>
<rect x="348.13" y="240.04" width="10.36" height="15.70" fill="#00F8D0"/>
<rect x="358.24" y="240.04" width="10.36" height="15.70" fill="#6850C0"/>
<rect x="368.36" y="240.04" width="10.36" height="15.70" fill="#00E890"/>
<rect x="378.47" y="240.04" width="10.36" height="15.70" fill="#A0A840"/>
<rect x="388.59" y="240.04" width="10.36" height="15.70" fill="#D0A8F0"/>
<rect x="398.70" y="240.04" width="10.36" height="15.70" fill="#E0F890"/>
<rect x="408.81" y="240.04" width="10.36" height="15.70" fill="#2098E8"/>
<rect x="418.93" y="240.04" width="10.36" height="15.70" fill="#0090E0"/>
<rect x="429.04" y="240.04" width="10.36" height="15.70" fill="#F03000"/>
<rect x="439.16" y="240.04" width="10.36" height="15.70" fill="#D0A000"/>
<rect x="449.27" y="240.04" width="10.36" height="15.70" fill="#A0F800"/>
<rect x="459.39" y="240.04" width="10.36" height="15.70" fill="#0000D8"/>
<rect x="469.50" y="240.04" width="10.36" height="15.70" fill="#7890B0"/>
<rect x="479.61" y="240.04" width="10.36" height="15.70" fill="#78E060"/>
<rect x="489.73" y="240.04" width="10.36" height="15.70" fill="#50F000"/>
<rect x="499.84" y="240.04" width="10.36" height="15.70" fill="#C010F0"/>
<rect x="509.96" y="240.04" width="10.36" height="15.70" fill="#90F800"/>
<rect x="520.07" y="240.04" width="10.36" height="15.70" fill="#9020B0"/>
<rect x="530.19" y="240.04" width="10.11" height="15.70" fill="#B030F0"/>
<rect x="327.90" y="255.49" width="10.36" height="15.70" fill="#FFC0C8"/>
<rect x="338.01" y="255.49" width="10.36" height="15.70" fill="#FFD0C0"/>
<rect x="348.13" y="255.49" width="10.36" height="15.70" fill="#F850C0"/>
<rect x="358.24" y="255.49" width="10.36" height="15.70" fill="#D8A8F0"/>
<rect x="368.36" y="255.49" width="10.36" height="15.70" fill="#90B810"/>
<rect x="378.47" y="255.49" width="10.36" height="15.70" fill="#E8F810"/>
<rect x="388.59" y="255.49" width="10.36" height="15.70" fill="#E0A000"/>
<rect x="398.70" y="255.49" width="10.36" height="15.70" fill="#90B810"/>
<rect x="408.81" y="255.49" width="10.36" height="15.70" fill="#00B0A8"/>
<rect x="418.93" y="255.49" width="10.36" height="15.70" fill="#5008D8"/>
<rect x="429.04" y="255.49" width="10.36" height="15.70" fill="#FF9000"/>
<rect x="439.16" y="255.49" width="10.36" height="15.70" fill="#FFA828"/>
<rect x="449.27" y="255.49" width="10.36" height="15.70" fill="#984800"/>
<rect x="459.39" y="255.49" width="10.36" height="15.70" fill="#007068"/>
<rect x="469.50" y="255.49" width="10.36" height="15.70" fill="#50F890"/>
<rect x="479.61" y="255.49" width="10.36" height="15.70" fill="#A878FF"/>
<rect x="489.73" y="255.49" width="10.36" height="15.70" fill="#8848F8"/>
<rect x="499.84" y="255.49" width="10.36" height="15.70" fill="#007070"/>
<rect x="509.96" y="255.49" width="10.36" height="15.70" fill="#70D800"/>
<rect x="520.07" y="255.49" width="10.36" height="15.70" fill="#9010C0"/>
<rect x="530.19" y="255.49" width="10.11" height="15.70" fill="#D0FFF0"/>
<rect x="327.90" y="270.93" width="10.36" height="15.70" fill="#C020FF"/>
<rect x="338.01" y="270.93" width="10.36" height="15.70" fill="#A020F0"/>
<rect x="348.13" y="270.93" width="10.36" height="15.70" fill="#800058"/>
<rect x="358.24" y="270.93" width="10.36" height="15.70" fill="#D8F870"/>
<rect x="368.36" y="270.93" width="10.36" height="15.70" fill="#00E888"/>
<rect x="378.47" y="270.93" width="10.36" height="15.70" fill="#906800"/>
<rect x="388.59" y="270.93" width="10.36" height="15.70" fill="#6830C0"/>
<rect x="398.70" y="270.93" width="10.36" height="15.70" fill="#FFA020"/>
<rect x="408.81" y="270.93" width="10.36" height="15.70" fill="#FFC020"/>
<rect x="418.93" y="270.93" width="10.36" height="15.70" fill="#F8FF00"/>
<rect x="429.04" y="270.93" width="10.36" height="15.70" fill="#FFB0E4"/>
<rect x="439.16" y="270.93" width="10.36" height="15.70" fill="#FFD020"/>
<rect x="449.27" y="270.93" width="10.36" height="15.70" fill="#00F840"/>
<rect x="459.39" y="270.93" width="10.36" height="15.70" fill="#3800E0"/>
<rect x="469.50" y="270.93" width="10.36" height="15.70" fill="#50F800"/>
<rect x="479.61" y="270.93" width="10.36" height="15.70" fill="#00F000"/>
<rect x="489.73" y="270.93" width="10.36" height="15.70" fill="#00F000"/>
<rect x="499.84" y="270.93" width="10.36" height="15.70" fill="#C010E0"/>
<rect x="509.96" y="270.93" width="10.36" height="15.70" fill="#C010A0"/>
<rect x="520.07" y="270.93" width="10.36" height="15.70" fill="#3000D8"/>
<rect x="530.19" y="270.93" width="10.11" height="15.70" fill="#8030F0"/>
<rect x="327.90" y="286.38" width="10.36" height="15.70" fill="#30A0E8"/>
<rect x="338.01" y="286.38" width="10.36" height="15.70" fill="#70B050"/>
<rect x="348.13" y="286.38" width="10.36" height="15.70" fill="#FFC8E0"/>
<rect x="358.24" y="286.38" width="10.36" height="15.70" fill="#48A8B8"/>
<rect x="368.36" y="286.38" width="10.36" height="15.70" fill="#B8A8F0"/>
<rect x="378.47" y="286.38" width="10.36" height="15.70" fill="#0098E0"/>
<rect x="388.59" y="286.38" width="10.36" height="15.70" fill="#D0FF00"/>
<rect x="398.70" y="286.38" width="10.36" height="15.70" fill="#FFA8F0"/>
<rect x="408.81" y="286.38" width="10.36" height="15.70" fill="#FFA000"/>
<rect x="418.93" y="286.38" width="10.36" height="15.70" fill="#B0E800"/>
<rect x="429.04" y="286.38" width="10.36" height="15.70" fill="#FFD020"/>
<rect x="439.16" y="286.38" width="10.36" height="15.70" fill="#B0A800"/>
<rect x="449.27" y="286.38" width="10.36" height="15.70" fill="#907888"/>
<rect x="459.39" y="286.38" width="10.36" height="15.70" fill="#808850"/>
<rect x="469.50" y="286.38" width="10.36" height="15.70" fill="#A8FFD8"/>
<rect x="479.61" y="286.38" width="10.36" height="15.70" fill="#00C0F0"/>
<rect x="489.73" y="286.38" width="10.36" height="15.70" fill="#007068"/>
<rect x="499.84" y="286.38" width="10.36" height="15.70" fill="#70F000"/>
<rect x="509.96" y="286.38" width="10.36" height="15.70" fill="#60A0F0"/>
<rect x="520.07" y="286.38" width="10.36" height="15.70" fill="#D820FF"/>
<rect x="530.19" y="286.38" width="10.11" height="15.70" fill="#00D878"/>
<rect x="327.90" y="301.82" width="10.36" height="15.70" fill="#1878D0"/>
<rect x="338.01" y="301.82" width="10.36" height="15.70" fill="#0030F0"/>
<rect x="348.13" y="301.82" width="10.36" height="15.70" fill="#C088C0"/>
<rect x="358.24" y="301.82" width="10.36" height="15.70" fill="#FF5000"/>
<rect x="368.36" y="301.82" width="10.36" height="15.70" fill="#902070"/>
<rect x="378.47" y="301.82" width="10.36" height="15.70" fill="#FFD8E0"/>
<rect x="388.59" y="301.82" width="10.36" height="15.70" fill="#FFFF00"/>
<rect x="398.70" y="301.82" width="10.36" height="15.70" fill="#FFFF00"/>
<rect x="408.81" y="301.82" width="10.36" height="15.70" fill="#E0E820"/>
<rect x="418.93" y="301.82" width="10.36" height="15.70" fill="#00F0C0"/>
<rect x="429.04" y="301.82" width="10.36" height="15.70" fill="#880060"/>
<rect x="439.16" y="301.82" width="10.36" height="15.70" fill="#B07000"/>
<rect x="449.27" y="301.82" width="10.36" height="15.70" fill="#A040C8"/>
<rect x="459.39" y="301.82" width="10.36" height="15.70" fill="#00F800"/>
<rect x="469.50" y="301.82" width="10.36" height="15.70" fill="#D0FFF0"/>
<rect x="479.61" y="301.82" width="10.36" height="15.70" fill="#009860"/>
<rect x="489.73" y="301.82" width="10.36" height="15.70" fill="#50F000"/>
<rect x="499.84" y="301.82" width="10.36" height="15.70" fill="#C030FF"/>
<rect x="509.96" y="301.82" width="10.36" height="15.70" fill="#C800D0"/>
<rect x="520.07" y="301.82" width="10.36" height="15.70" fill="#009860"/>
<rect x="530.19" y="301.82" width="10.11" height="15.70" fill="#60F8A8"/>
<rect x="327.90" y="317.27" width="10.36" height="15.70" fill="#FFFF60"/>
<rect x="338.01" y="317.27" width="10.36" height="15.70" fill="#FF80C0"/>
<rect x="348.13" y="317.27" width="10.36" height="15.70" fill="#D8F870"/>
<rect x="358.24" y="317.27" width="10.36" height="15.70" fill="#8858F8"/>
<rect x="368.36" y="317.27" width="10.36" height="15.70" fill="#D08048"/>
<rect x="378.47" y="317.27" width="10.36" height="15.70" fill="#30B8B0"/>
<rect x="388.59" y="317.27" width="10.36" height="15.70" fill="#8028D0"/>
<rect x="398.70" y="317.27" width="10.36" height="15.70" fill="#C08000"/>
<rect x="408.81" y="317.27" width="10.36" height="15.70" fill="#F06890"/>
<rect x="418.93" y="317.27" width="10.36" height="15.70" fill="#880060"/>
<rect x="429.04" y="317.27" width="10.36" height="15.70" fill="#C0A0F0"/>
<rect x="439.16" y="317.27" width="10.36" height="15.70" fill="#60A0F0"/>
<rect x="449.27" y="317.27" width="10.36" height="15.70" fill="#20D8D8"/>
<rect x="459.39" y="317.27" width="10.36" height="15.70" fill="#002090"/>
<rect x="469.50" y="317.27" width="10.36" height="15.70" fill="#808850"/>
<rect x="479.61" y="317.27" width="10.36" height="15.70" fill="#70F000"/>
<rect x="489.73" y="317.27" width="10.36" height="15.70" fill="#80F840"/>
<rect x="499.84" y="317.27" width="10.36" height="15.70" fill="#00E8C0"/>
<rect x="509.96" y="317.27" width="10.36" height="15.70" fill="#40D800"/>
<rect x="520.07" y="317.27" width="10.36" height="15.70" fill="#009860"/>
<rect x="530.19" y="317.27" width="10.11" height="15.70" fill="#10FFC8"/>
<rect x="327.90" y="332.71" width="10.36" height="15.70" fill="#38B0A8"/>
<rect x="338.01" y="332.71" width="10.36" height="15.70" fill="#FFD0B0"/>
<rect x="348.13" y="332.71" width="10.36" height="15.70" fill="#A8D020"/>
<rect x="358.24" y="332.71" width="10.36" height="15.70" fill="#A040C8"/>
<rect x="368.36" y="332.71" width="10.36" height="15.70" fill="#B8D800"/>
<rect x="378.47" y="332.71" width="10.36" height="15.70" fill="#00F8C8"/>
<rect x="388.59" y="332.71" width="10.36" height="15.70" fill="#FF20F0"/>
<rect x="398.70" y="332.71" width="10.36" height="15.70" fill="#FFD0A0"/>
<rect x="408.81" y="332.71" width="10.36" height="15.70" fill="#F8FF00"/>
<rect x="418.93" y="332.71" width="10.36" height="15.70" fill="#802088"/>
<rect x="429.04" y="332.71" width="10.36" height="15.70" fill="#4870C8"/>
<rect x="439.16" y="332.71" width="10.36" height="15.70" fill="#FFD0D0"/>
<rect x="449.27" y="332.71" width="10.36" height="15.70" fill="#FFB000"/>
<rect x="459.39" y="332.71" width="10.36" height="15.70" fill="#00C0F0"/>
<rect x="469.50" y="332.71" width="10.36" height="15.70" fill="#B898F8"/>
<rect x="479.61" y="332.71" width="10.36" height="15.70" fill="#C010D0"/>
<rect x="489.73" y="332.71" width="10.36" height="15.70" fill="#4808E0"/>
<rect x="499.84" y="332.71" width="10.36" height="15.70" fill="#1808D0"/>
<rect x="509.96" y="332.71" width="10.36" height="15.70" fill="#00E870"/>
<rect x="520.07" y="332.71" width="10.36" height="15.70" fill="#00F050"/>
<rect x="530.19" y="332.71" width="10.11" height="15.70" fill="#00D878"/>
<rect x="327.90" y="348.16" width="10.36" height="15.45" fill="#FFB8E8"/>
<rect x="338.01" y="348.16" width="10.36" height="15.45" fill="#F850C0"/>
<rect x="348.13" y="348.16" width="10.36" height="15.45" fill="#902070"/>
<rect x="358.24" y="348.16" width="10.36" height="15.45" fill="#D8FFA0"/>
<rect x="368.36" y="348.16" width="10.36" height="15.45" fill="#D8FFC0"/>
<rect x="378.47" y="348.16" width="10.36" height="15.45" fill="#00B8A0"/>
<rect x="388.59" y="348.16" width="10.36" height="15.45" fill="#00F8D0"/>
<rect x="398.70" y="348.16" width="10.36" height="15.45" fill="#E0FF90"/>
<rect x="408.81" y="348.16" width="10.36" height="15.45" fill="#880060"/>
<rect x="418.93" y="348.16" width="10.36" height="15.45" fill="#B0F000"/>
<rect x="429.04" y="348.16" width="10.36" height="15.45" fill="#C0A0F0"/>
<rect x="439.16" y="348.16" width="10.36" height="15.45" fill="#D8FFD8"/>
<rect x="449.27" y="348.16" width="10.36" height="15.45" fill="#A08000"/>
<rect x="459.39" y="348.16" width="10.36" height="15.45" fill="#887858"/>
<rect x="469.50" y="348.16" width="10.36" height="15.45" fill="#70C098"/>
<rect x="479.61" y="348.16" width="10.36" height="15.45" fill="#30D830"/>
<rect x="489.73" y="348.16" width="10.36" height="15.45" fill="#4878F8"/>
<rect x="499.84" y="348.16" width="10.36" height="15.45" fill="#B800A0"/>
<rect x="509.96" y="348.16" width="10.36" height="15.45" fill="#5000F0"/>
<rect x="520.07" y="348.16" width="10.36" height="15.45" fill="#A010E0"/>
<rect x="530.19" y="348.16" width="10.11" height="15.45" fill="#9800D8"/>
</g>
<rect x="327.9" y="42.5" width="131.69" height="10.5" fill="#0000b4"/>
<rect x="459.39" y="42.5" width="80.91" height="10.5" fill="#7cfc00"/>
<text x="542.5" y="51.4" font-size="9.6" fill="#000">Type</text>
<text x="542.5" y="65.8" font-size="9.6" fill="#000">GLRX</text>
<text x="542.5" y="81.3" font-size="9.6" fill="#000">SLPI</text>
<text x="542.5" y="96.7" font-size="9.6" fill="#000">TUBG1</text>
<text x="542.5" y="112.2" font-size="9.6" fill="#000">ERV3-2</text>
<text x="542.5" y="127.6" font-size="9.6" fill="#000">CHI3L1</text>
<text x="542.5" y="143.0" font-size="9.6" fill="#000">CTPS1</text>
<text x="542.5" y="158.5" font-size="9.6" fill="#000">MT1X</text>
<text x="542.5" y="173.9" font-size="9.6" fill="#000">MT2A</text>
<text x="542.5" y="189.4" font-size="9.6" fill="#000">MT1H</text>
<text x="542.5" y="204.8" font-size="9.6" fill="#000">SKIC2</text>
<text x="542.5" y="220.3" font-size="9.6" fill="#000">FBP2</text>
<text x="542.5" y="235.7" font-size="9.6" fill="#000">LSMEM1</text>
<text x="542.5" y="251.2" font-size="9.6" fill="#000">NREP</text>
<text x="542.5" y="266.6" font-size="9.6" fill="#000">IFIT1</text>
<text x="542.5" y="282.1" font-size="9.6" fill="#000">KY</text>
<text x="542.5" y="297.5" font-size="9.6" fill="#000">LDAF1</text>
<text x="542.5" y="312.9" font-size="9.6" fill="#000">LINC00312</text>
<text x="542.5" y="328.4" font-size="9.6" fill="#000">DHRS7C</text>
<text x="542.5" y="343.8" font-size="9.6" fill="#000">RNF150</text>
<text x="542.5" y="359.3" font-size="9.6" fill="#000">KLHL31</text>
<path d="M333.0,42.0V36.6M343.1,42.0V36.6M333.0,36.6H343.1M363.3,42.0V38.6M373.4,42.0V38.6M363.3,38.6H373.4M353.2,42.0V37.5M368.4,38.6V37.5M353.2,37.5H368.4M403.8,42.0V39.0M413.9,42.0V39.0M403.8,39.0H413.9M424.0,42.0V38.0M434.1,42.0V38.0M424.0,38.0H434.1M444.2,42.0V38.2M454.3,42.0V38.2M444.2,38.2H454.3M429.0,38.0V37.0M449.3,38.2V37.0M429.0,37.0H449.3M393.6,42.0V36.4M408.8,39.0V36.4M393.6,36.4H408.8M401.2,36.4V35.8M439.2,37.0V35.8M401.2,35.8H439.2M383.5,42.0V35.5M420.2,35.8V35.5M383.5,35.5H420.2M360.8,37.5V34.8M401.9,35.5V34.8M360.8,34.8H401.9M338.0,36.6V33.1M390.0,34.8V33.1M338.0,33.1H390.0M464.4,42.0V38.9M474.6,42.0V38.9M464.4,38.9H474.6M494.8,42.0V39.4M504.9,42.0V39.4M494.8,39.4H504.9M484.7,42.0V37.7M499.8,39.4V37.7M484.7,37.7H499.8M515.0,42.0V38.9M525.1,42.0V38.9M515.0,38.9H525.1M492.3,37.7V36.6M520.1,38.9V36.6M492.3,36.6H520.1M506.2,36.6V36.0M535.2,42.0V36.0M506.2,36.0H535.2M469.5,38.9V35.4M520.7,36.0V35.4M469.5,35.4H520.7M363.4,33.1V20.5M495.3,35.4V20.5M363.4,20.5H495.3M323.5,62.4H327.4M323.5,77.9H327.4M323.5,62.4V77.9M321.9,70.1H323.5M321.9,93.3H327.4M321.9,70.1V93.3M323.0,108.8H327.4M323.0,124.2H327.4M323.0,108.8V124.2M320.9,81.7H321.9M320.9,116.5H323.0M320.9,81.7V116.5M325.1,155.1H327.4M325.1,170.5H327.4M325.1,155.1V170.5M323.7,162.8H325.1M323.7,186.0H327.4M323.7,162.8V186.0M321.9,174.4H323.7M321.9,201.4H327.4M321.9,174.4V201.4M321.2,139.6H327.4M321.2,187.9H321.9M321.2,139.6V187.9M320.0,99.1H320.9M320.0,163.8H321.2M320.0,99.1V163.8M323.7,232.3H327.4M323.7,247.8H327.4M323.7,232.3V247.8M322.4,240.0H323.7M322.4,263.2H327.4M322.4,240.0V263.2M322.0,278.7H327.4M322.0,294.1H327.4M322.0,278.7V294.1M323.7,309.5H327.4M323.7,325.0H327.4M323.7,309.5V325.0M321.9,340.4H327.4M321.9,355.9H327.4M321.9,340.4V355.9M321.4,251.6H322.4M321.4,286.4H322.0M321.4,251.6V286.4M321.0,317.3H323.7M321.0,348.2H321.9M321.0,317.3V348.2M320.6,269.0H321.4M320.6,332.7H321.0M320.6,269.0V332.7M320.0,216.9H327.4M320.0,300.9H320.6M320.0,216.9V300.9M303.9,144.2H320.0M303.9,314.5H320.0M303.9,144.2V314.5" fill="none" stroke="#222" stroke-width="0.9"/>
<text x="599" y="188.5" font-size="8.05" font-weight="bold" fill="#000">Expression</text>
<text x="647.8" y="188.5" font-size="8.05" font-weight="bold" fill="#000">Type</text>
<rect x="599.1" y="191.98" width="9" height="3.99" fill="#C0A0F8"/>
<rect x="599.1" y="195.82" width="9" height="2.00" fill="#9458F0"/>
<rect x="599.1" y="197.67" width="9" height="1.15" fill="#00E060"/>
<rect x="599.1" y="198.67" width="9" height="1.15" fill="#20A0A0"/>
<rect x="599.1" y="199.66" width="9" height="1.57" fill="#3000C0"/>
<rect x="599.1" y="201.09" width="9" height="1.29" fill="#6000A0"/>
<rect x="599.1" y="202.22" width="9" height="1.57" fill="#9060A0"/>
<rect x="599.1" y="203.65" width="9" height="1.29" fill="#708850"/>
<rect x="599.1" y="204.79" width="9" height="2.57" fill="#00E890"/>
<rect x="599.1" y="207.20" width="9" height="2.28" fill="#00F0A8"/>
<rect x="599.1" y="209.34" width="9" height="2.28" fill="#600070"/>
<rect x="599.1" y="211.47" width="9" height="1.57" fill="#900080"/>
<rect x="599.1" y="212.89" width="9" height="2.28" fill="#B040F0"/>
<rect x="599.1" y="215.03" width="9" height="1.57" fill="#D0A0E0"/>
<rect x="599.1" y="216.45" width="9" height="1.86" fill="#E0E040"/>
<rect x="599.1" y="218.16" width="9" height="1.57" fill="#20B090"/>
<rect x="599.1" y="219.58" width="9" height="1.57" fill="#4080D0"/>
<rect x="599.1" y="221.00" width="9" height="1.29" fill="#C0E0C0"/>
<rect x="599.1" y="222.14" width="9" height="1.86" fill="#FF9000"/>
<rect x="599.1" y="223.85" width="9" height="1.57" fill="#B0A000"/>
<rect x="599.1" y="225.27" width="9" height="2.00" fill="#C0F000"/>
<rect x="599.1" y="227.12" width="9" height="1.57" fill="#40F000"/>
<rect x="599.1" y="228.54" width="9" height="1.15" fill="#F04060"/>
<rect x="599.1" y="229.54" width="9" height="1.29" fill="#8050F0"/>
<rect x="599.1" y="230.67" width="9" height="1.29" fill="#40C0B0"/>
<rect x="599.1" y="231.81" width="9" height="1.29" fill="#E090C0"/>
<rect x="599.1" y="232.95" width="9" height="1.00" fill="#B0A0E0"/>
<rect x="599.1" y="233.80" width="9" height="2.00" fill="#007050"/>
<rect x="599.1" y="235.65" width="9" height="1.15" fill="#40B0A0"/>
<text x="610.5" y="197.1" font-size="8.2" fill="#000">2</text>
<text x="610.5" y="207.2" font-size="8.2" fill="#000">1</text>
<text x="610.5" y="217.2" font-size="8.2" fill="#000">0</text>
<text x="610.5" y="227.4" font-size="8.2" fill="#000">-1</text>
<text x="610.5" y="237.6" font-size="8.2" fill="#000">-2</text>
<rect x="647.6" y="192.8" width="8.5" height="8" fill="#7cfc00"/>
<rect x="647.6" y="200.8" width="8.5" height="8" fill="#0000b4"/>
<text x="659" y="199.2" font-size="8.2" fill="#000">Control</text>
<text x="659" y="207.7" font-size="8.2" fill="#000">Sepsis</text>
</svg>
</body></html>
